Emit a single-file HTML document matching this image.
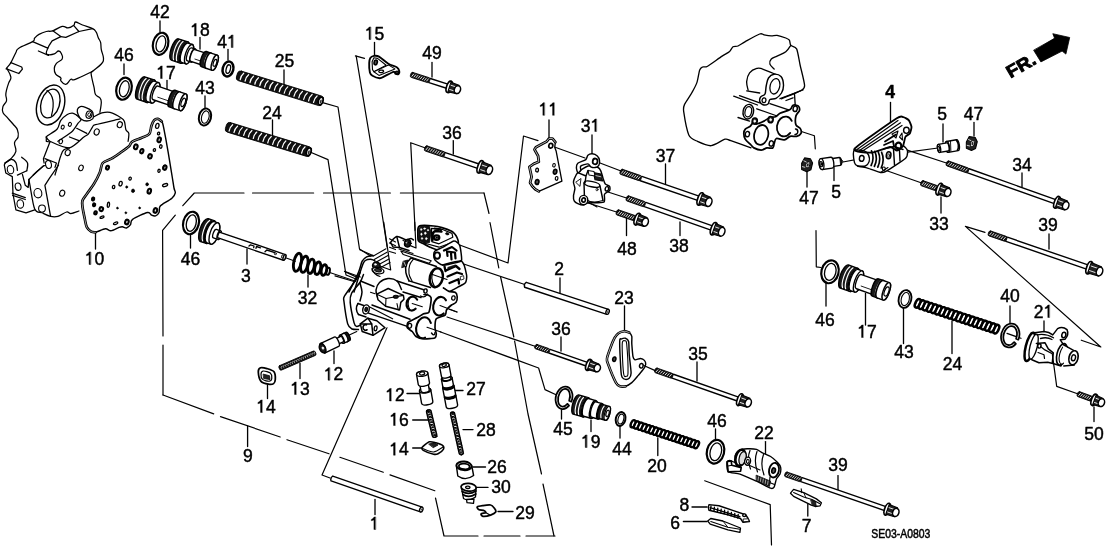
<!DOCTYPE html>
<html><head><meta charset="utf-8"><title>diagram</title>
<style>
html,body{margin:0;padding:0;background:#fff;}
body{width:1108px;height:553px;overflow:hidden;}
svg{display:block;}
svg text{font-family:"Liberation Sans",sans-serif;fill:#000;stroke:#000;stroke-width:0.45px;}
svg{filter:grayscale(1);}
svg *{stroke-linecap:round;stroke-linejoin:round;}
</style></head><body>
<svg width="1108" height="553" viewBox="0 0 1108 553" stroke="#000" fill="none">
<rect x="0" y="0" width="1108" height="553" fill="#fff" stroke="none"/>
<line x1="160" y1="21" x2="160" y2="32" stroke-width="1.32" />
<line x1="200" y1="37.5" x2="200" y2="49" stroke-width="1.32" />
<line x1="228" y1="49.5" x2="228" y2="60" stroke-width="1.32" />
<line x1="124" y1="64" x2="124" y2="74.5" stroke-width="1.32" />
<line x1="167" y1="80.5" x2="167" y2="95" stroke-width="1.32" />
<line x1="205" y1="96" x2="205" y2="107.5" stroke-width="1.32" />
<line x1="272.5" y1="120" x2="272.5" y2="135" stroke-width="1.32" />
<line x1="284" y1="70" x2="284" y2="84" stroke-width="1.32" />
<line x1="374.5" y1="42.5" x2="374.5" y2="55.5" stroke-width="1.32" />
<line x1="432" y1="62.5" x2="432" y2="77" stroke-width="1.32" />
<line x1="549" y1="120" x2="549" y2="141" stroke-width="1.32" />
<line x1="592" y1="135" x2="592" y2="155.5" stroke-width="1.32" />
<line x1="890.5" y1="102.5" x2="890.5" y2="122.5" stroke-width="1.32" />
<line x1="943" y1="124" x2="943" y2="142" stroke-width="1.32" />
<line x1="974" y1="122.5" x2="974" y2="136" stroke-width="1.32" />
<line x1="95.5" y1="233" x2="95.5" y2="249" stroke-width="1.32" />
<line x1="190.5" y1="234" x2="190.5" y2="248" stroke-width="1.32" />
<line x1="247" y1="249" x2="247" y2="264" stroke-width="1.32" />
<line x1="453.3" y1="140.6" x2="453.3" y2="154" stroke-width="1.32" />
<line x1="665.5" y1="164" x2="665.5" y2="184" stroke-width="1.32" />
<line x1="680" y1="222" x2="680" y2="235.5" stroke-width="1.32" />
<line x1="626.5" y1="217" x2="626.5" y2="235.5" stroke-width="1.32" />
<line x1="807" y1="170.5" x2="807" y2="187" stroke-width="1.32" />
<line x1="834" y1="165.5" x2="834" y2="180.5" stroke-width="1.32" />
<line x1="1022" y1="173" x2="1022" y2="187" stroke-width="1.32" />
<line x1="941" y1="197" x2="941" y2="213" stroke-width="1.32" />
<line x1="1049" y1="234" x2="1049" y2="249" stroke-width="1.32" />
<line x1="308" y1="275" x2="308" y2="287" stroke-width="1.32" />
<line x1="334" y1="351" x2="334" y2="363.5" stroke-width="1.32" />
<line x1="300" y1="363.5" x2="300" y2="378.5" stroke-width="1.32" />
<line x1="267.5" y1="384.5" x2="267.5" y2="398.5" stroke-width="1.32" />
<line x1="624.5" y1="306" x2="624.5" y2="332" stroke-width="1.32" />
<line x1="561" y1="337" x2="561" y2="351" stroke-width="1.32" />
<line x1="697" y1="362" x2="697" y2="381" stroke-width="1.32" />
<line x1="560" y1="278" x2="560" y2="293.5" stroke-width="1.32" />
<line x1="826" y1="282" x2="826" y2="306" stroke-width="1.32" />
<line x1="865.5" y1="293.5" x2="865.5" y2="325" stroke-width="1.32" />
<line x1="903.5" y1="306" x2="903.5" y2="343.5" stroke-width="1.32" />
<line x1="952" y1="321" x2="952" y2="353.5" stroke-width="1.32" />
<line x1="1010" y1="306" x2="1010" y2="323.5" stroke-width="1.32" />
<line x1="1044" y1="321" x2="1044" y2="335" stroke-width="1.32" />
<line x1="247.6" y1="426" x2="247.6" y2="446.5" stroke-width="1.32" />
<line x1="375" y1="499.4" x2="375" y2="514.5" stroke-width="1.32" />
<line x1="561.5" y1="410" x2="561.5" y2="419" stroke-width="1.32" />
<line x1="591" y1="420" x2="591" y2="431.6" stroke-width="1.32" />
<line x1="620" y1="425" x2="620" y2="438" stroke-width="1.32" />
<line x1="657.8" y1="438" x2="657.8" y2="455.5" stroke-width="1.32" />
<line x1="715.5" y1="429" x2="715.5" y2="439" stroke-width="1.32" />
<line x1="765.5" y1="441.6" x2="765.5" y2="455.5" stroke-width="1.32" />
<line x1="807.8" y1="503" x2="807.8" y2="516" stroke-width="1.32" />
<line x1="838" y1="475.6" x2="838" y2="489.4" stroke-width="1.32" />
<line x1="1094" y1="407" x2="1094" y2="421.5" stroke-width="1.32" />
<line x1="407" y1="393.5" x2="421" y2="393.5" stroke-width="1.32" />
<line x1="452" y1="390.5" x2="463" y2="390.5" stroke-width="1.32" />
<line x1="412.7" y1="420" x2="429" y2="420" stroke-width="1.32" />
<line x1="463" y1="429.6" x2="473" y2="429.6" stroke-width="1.32" />
<line x1="412.7" y1="448" x2="422.7" y2="448" stroke-width="1.32" />
<line x1="473" y1="467" x2="485.5" y2="467" stroke-width="1.32" />
<line x1="476.7" y1="487.4" x2="488" y2="487.4" stroke-width="1.32" />
<line x1="498" y1="511.5" x2="513" y2="511.5" stroke-width="1.32" />
<line x1="692" y1="507" x2="707" y2="507" stroke-width="1.32" />
<line x1="683.4" y1="521.5" x2="707" y2="521.5" stroke-width="1.32" />
<path d="M244.0 193.0 L194.3 193.0 L182.8 205.7" stroke-width="1.21" fill="none"/>
<path d="M175.3 215.2 L162.6 230.3 L163.0 336.0" stroke-width="1.21" fill="none"/>
<line x1="252.5" y1="193" x2="313.6" y2="193" stroke-width="1.21" />
<line x1="323.5" y1="193" x2="390.4" y2="193" stroke-width="1.21" />
<line x1="400.4" y1="193" x2="484" y2="193" stroke-width="1.21" />
<path d="M484.0 193.0 L489.0 213.5" stroke-width="1.21" fill="none"/>
<path d="M490.0 222.5 L498.8 268.0" stroke-width="1.21" fill="none"/>
<path d="M500.6 277.0 L513.8 337.0" stroke-width="1.21" fill="none"/>
<path d="M514.6 341.0 L528.0 414.0 L541.5 474.0" stroke-width="1.21" fill="none"/>
<path d="M543.0 484.0 L554.0 536.0" stroke-width="1.21" fill="none"/>
<line x1="163" y1="345" x2="163" y2="395" stroke-width="1.21" />
<path d="M163.0 395.0 L213.7 413.9" stroke-width="1.21" fill="none"/>
<path d="M220.5 416.6 L280.2 437.0" stroke-width="1.21" fill="none"/>
<path d="M287.0 439.7 L329.0 453.8" stroke-width="1.21" fill="none"/>
<path d="M339.9 457.3 L383.3 472.2" stroke-width="1.21" fill="none"/>
<path d="M390.0 474.9 L434.8 490.7" stroke-width="1.21" fill="none"/>
<path d="M435.5 498.0 L444.0 536.0 L478.0 536.0" stroke-width="1.21" fill="none"/>
<line x1="484" y1="536" x2="520" y2="536" stroke-width="1.21" />
<line x1="526" y1="536" x2="555" y2="536" stroke-width="1.21" />
<path d="M322.6 102.6 L338.0 107.0 L359.5 249.0 L391.0 269.0" stroke-width="1.21" fill="none"/>
<path d="M310.0 152.0 L328.0 159.6 L346.0 275.0 L356.0 279.0" stroke-width="1.21" fill="none"/>
<path d="M364.5 58.4 L355.4 55.9" stroke-width="1.21" fill="none"/>
<path d="M356.2 56.2 L376.8 180.0 L390.7 270.0" stroke-width="1.21" fill="none"/>
<path d="M424.8 147.8 L410.7 142.7 L416.0 248.0 L409.7 245.4" stroke-width="1.21" fill="none"/>
<path d="M457.0 244.0 L508.0 263.0 L523.5 136.0 L538.0 140.6" stroke-width="1.21" fill="none"/>
<path d="M551.0 145.8 L585.0 158.0" stroke-width="1.21" fill="none"/>
<path d="M600.0 163.0 L621.0 171.0" stroke-width="1.21" fill="none"/>
<path d="M608.0 192.0 L626.5 198.0" stroke-width="1.21" fill="none"/>
<path d="M586.5 202.5 L616.5 212.0" stroke-width="1.21" fill="none"/>
<path d="M391.0 318.5 L322.0 475.0 L330.0 478.0" stroke-width="1.21" fill="none"/>
<path d="M440.0 256.0 L524.0 284.3" stroke-width="1.21" fill="none"/>
<path d="M440.0 306.0 L457.0 312.0" stroke-width="1.21" fill="none"/>
<path d="M447.0 317.0 L535.0 346.2" stroke-width="1.21" fill="none"/>
<path d="M440.0 331.8 L538.6 368.0 L545.0 389.6 L556.6 395.0" stroke-width="1.21" fill="none"/>
<path d="M780.7 124.7 L814.4 135.8 L815.3 148.8" stroke-width="1.21" fill="none"/>
<path d="M816.0 230.5 L816.3 266.8 L821.0 267.5" stroke-width="1.21" fill="none"/>
<path d="M843.0 162.0 L859.6 158.8" stroke-width="1.21" fill="none"/>
<path d="M938.0 148.0 L905.7 152.4" stroke-width="1.21" fill="none"/>
<path d="M905.7 149.7 L946.4 163.0" stroke-width="1.21" fill="none"/>
<path d="M887.6 171.0 L921.0 182.8" stroke-width="1.21" fill="none"/>
<path d="M985.0 232.4 L965.4 226.4 L1100.8 347.0 L1081.3 340.2" stroke-width="1.21" fill="none"/>
<path d="M1007.0 333.4 L1021.0 338.3" stroke-width="1.21" fill="none"/>
<g transform="translate(524.0 284.3) rotate(18.23)"><path d="M88.0 -2.6 L1.5 -2.6 Q-0.5 0 1.5 2.6 L88.0 2.6" fill="#fff" stroke-width="1.38"/><ellipse cx="88.0" cy="0" rx="1.6" ry="2.6" fill="#fff" stroke-width="1.38"/><ellipse cx="88.1" cy="0" rx="0.7" ry="1.1" fill="#555" stroke="none"/></g>
<g transform="translate(330.5 478.0) rotate(19.14)"><path d="M96.1 -2.6 L1.5 -2.6 Q-0.5 0 1.5 2.6 L96.1 2.6" fill="#fff" stroke-width="1.38"/><ellipse cx="96.1" cy="0" rx="1.6" ry="2.6" fill="#fff" stroke-width="1.38"/><ellipse cx="96.2" cy="0" rx="0.7" ry="1.1" fill="#555" stroke="none"/></g>
<g transform="translate(410.7 74.5) rotate(17.74)">
<path d="M19.9 -2.2 L39.1 -2.2 L39.1 2.2 L19.9 2.2" fill="#fff" stroke-width="1.38"/>
<rect x="0" y="-2.6" width="19.9" height="5.2" rx="1.5" fill="#111" stroke-width="0.8"/>
<line x1="2.7" y1="-1.3" x2="1.7" y2="1.3" stroke="#fff" stroke-width="0.8"/>
<line x1="4.9" y1="-1.3" x2="3.9" y2="1.3" stroke="#fff" stroke-width="0.8"/>
<line x1="7.1" y1="-1.3" x2="6.1" y2="1.3" stroke="#fff" stroke-width="0.8"/>
<line x1="9.3" y1="-1.3" x2="8.3" y2="1.3" stroke="#fff" stroke-width="0.8"/>
<line x1="11.5" y1="-1.3" x2="10.5" y2="1.3" stroke="#fff" stroke-width="0.8"/>
<line x1="13.8" y1="-1.3" x2="12.8" y2="1.3" stroke="#fff" stroke-width="0.8"/>
<line x1="16.0" y1="-1.3" x2="15.0" y2="1.3" stroke="#fff" stroke-width="0.8"/>
<line x1="18.2" y1="-1.3" x2="17.2" y2="1.3" stroke="#fff" stroke-width="0.8"/>
<ellipse cx="40.5" cy="0" rx="2.7" ry="6.0" fill="#fff" stroke-width="1.65"/>
<path d="M40.7 -5.0 L49.3 -4.4 L49.3 4.4 L40.7 5.0 Z" fill="#222" stroke-width="1.1"/>
<line x1="41.7" y1="-2.0" x2="47.5" y2="-2.0" stroke="#fff" stroke-width="0.8"/>
<line x1="41.7" y1="2.4" x2="47.5" y2="2.4" stroke="#fff" stroke-width="0.8"/>
<ellipse cx="49.1" cy="0.2" rx="3.1" ry="4.0" fill="#fff" stroke-width="1.54"/>
</g>
<g transform="translate(424.8 148.0) rotate(18.74)">
<path d="M20.9 -2.3 L57.3 -2.3 L57.3 2.3 L20.9 2.3" fill="#fff" stroke-width="1.38"/>
<rect x="0" y="-2.7" width="20.9" height="5.4" rx="1.5" fill="#111" stroke-width="0.8"/>
<line x1="2.7" y1="-1.4" x2="1.7" y2="1.4" stroke="#fff" stroke-width="0.8"/>
<line x1="5.0" y1="-1.4" x2="4.0" y2="1.4" stroke="#fff" stroke-width="0.8"/>
<line x1="7.4" y1="-1.4" x2="6.4" y2="1.4" stroke="#fff" stroke-width="0.8"/>
<line x1="9.7" y1="-1.4" x2="8.7" y2="1.4" stroke="#fff" stroke-width="0.8"/>
<line x1="12.1" y1="-1.4" x2="11.1" y2="1.4" stroke="#fff" stroke-width="0.8"/>
<line x1="14.4" y1="-1.4" x2="13.4" y2="1.4" stroke="#fff" stroke-width="0.8"/>
<line x1="16.7" y1="-1.4" x2="15.7" y2="1.4" stroke="#fff" stroke-width="0.8"/>
<line x1="19.1" y1="-1.4" x2="18.1" y2="1.4" stroke="#fff" stroke-width="0.8"/>
<ellipse cx="58.7" cy="0" rx="2.7" ry="6.5" fill="#fff" stroke-width="1.65"/>
<path d="M58.9 -5.5 L68.4 -4.9 L68.4 4.9 L58.9 5.5 Z" fill="#222" stroke-width="1.1"/>
<line x1="59.9" y1="-2.2" x2="66.6" y2="-2.2" stroke="#fff" stroke-width="0.8"/>
<line x1="59.9" y1="2.6" x2="66.6" y2="2.6" stroke="#fff" stroke-width="0.8"/>
<ellipse cx="68.2" cy="0.2" rx="3.1" ry="4.5" fill="#fff" stroke-width="1.54"/>
</g>
<g transform="translate(620.3 171.4) rotate(19.01)">
<path d="M22.0 -2.3 L83.3 -2.3 L83.3 2.3 L22.0 2.3" fill="#fff" stroke-width="1.38"/>
<rect x="0" y="-2.7" width="22.0" height="5.4" rx="1.5" fill="#111" stroke-width="0.8"/>
<line x1="2.7" y1="-1.4" x2="1.7" y2="1.4" stroke="#fff" stroke-width="0.8"/>
<line x1="4.9" y1="-1.4" x2="3.9" y2="1.4" stroke="#fff" stroke-width="0.8"/>
<line x1="7.1" y1="-1.4" x2="6.1" y2="1.4" stroke="#fff" stroke-width="0.8"/>
<line x1="9.3" y1="-1.4" x2="8.3" y2="1.4" stroke="#fff" stroke-width="0.8"/>
<line x1="11.5" y1="-1.4" x2="10.5" y2="1.4" stroke="#fff" stroke-width="0.8"/>
<line x1="13.7" y1="-1.4" x2="12.7" y2="1.4" stroke="#fff" stroke-width="0.8"/>
<line x1="15.9" y1="-1.4" x2="14.9" y2="1.4" stroke="#fff" stroke-width="0.8"/>
<line x1="18.1" y1="-1.4" x2="17.1" y2="1.4" stroke="#fff" stroke-width="0.8"/>
<line x1="20.3" y1="-1.4" x2="19.3" y2="1.4" stroke="#fff" stroke-width="0.8"/>
<ellipse cx="84.7" cy="0" rx="2.7" ry="6.5" fill="#fff" stroke-width="1.65"/>
<path d="M84.9 -5.5 L93.8 -4.9 L93.8 4.9 L84.9 5.5 Z" fill="#222" stroke-width="1.1"/>
<line x1="85.9" y1="-2.2" x2="92.0" y2="-2.2" stroke="#fff" stroke-width="0.8"/>
<line x1="85.9" y1="2.6" x2="92.0" y2="2.6" stroke="#fff" stroke-width="0.8"/>
<ellipse cx="93.6" cy="0.2" rx="3.1" ry="4.5" fill="#fff" stroke-width="1.54"/>
</g>
<g transform="translate(626.5 198.0) rotate(19.41)">
<path d="M19.7 -2.3 L91.1 -2.3 L91.1 2.3 L19.7 2.3" fill="#fff" stroke-width="1.38"/>
<rect x="0" y="-2.7" width="19.7" height="5.4" rx="1.5" fill="#111" stroke-width="0.8"/>
<line x1="2.7" y1="-1.4" x2="1.7" y2="1.4" stroke="#fff" stroke-width="0.8"/>
<line x1="4.9" y1="-1.4" x2="3.9" y2="1.4" stroke="#fff" stroke-width="0.8"/>
<line x1="7.1" y1="-1.4" x2="6.1" y2="1.4" stroke="#fff" stroke-width="0.8"/>
<line x1="9.3" y1="-1.4" x2="8.3" y2="1.4" stroke="#fff" stroke-width="0.8"/>
<line x1="11.5" y1="-1.4" x2="10.5" y2="1.4" stroke="#fff" stroke-width="0.8"/>
<line x1="13.6" y1="-1.4" x2="12.6" y2="1.4" stroke="#fff" stroke-width="0.8"/>
<line x1="15.8" y1="-1.4" x2="14.8" y2="1.4" stroke="#fff" stroke-width="0.8"/>
<line x1="18.0" y1="-1.4" x2="17.0" y2="1.4" stroke="#fff" stroke-width="0.8"/>
<ellipse cx="92.5" cy="0" rx="2.7" ry="6.5" fill="#fff" stroke-width="1.65"/>
<path d="M92.7 -5.5 L101.2 -4.9 L101.2 4.9 L92.7 5.5 Z" fill="#222" stroke-width="1.1"/>
<line x1="93.7" y1="-2.2" x2="99.4" y2="-2.2" stroke="#fff" stroke-width="0.8"/>
<line x1="93.7" y1="2.6" x2="99.4" y2="2.6" stroke="#fff" stroke-width="0.8"/>
<ellipse cx="101.0" cy="0.2" rx="3.1" ry="4.5" fill="#fff" stroke-width="1.54"/>
</g>
<g transform="translate(616.5 212.0) rotate(18.97)">
<rect x="0" y="-2.7" width="19.6" height="5.4" rx="1.5" fill="#111" stroke-width="0.8"/>
<line x1="2.7" y1="-1.4" x2="1.7" y2="1.4" stroke="#fff" stroke-width="0.8"/>
<line x1="4.9" y1="-1.4" x2="3.9" y2="1.4" stroke="#fff" stroke-width="0.8"/>
<line x1="7.1" y1="-1.4" x2="6.1" y2="1.4" stroke="#fff" stroke-width="0.8"/>
<line x1="9.2" y1="-1.4" x2="8.2" y2="1.4" stroke="#fff" stroke-width="0.8"/>
<line x1="11.4" y1="-1.4" x2="10.4" y2="1.4" stroke="#fff" stroke-width="0.8"/>
<line x1="13.6" y1="-1.4" x2="12.6" y2="1.4" stroke="#fff" stroke-width="0.8"/>
<line x1="15.8" y1="-1.4" x2="14.8" y2="1.4" stroke="#fff" stroke-width="0.8"/>
<line x1="17.9" y1="-1.4" x2="16.9" y2="1.4" stroke="#fff" stroke-width="0.8"/>
<ellipse cx="22.0" cy="0" rx="2.7" ry="6.2" fill="#fff" stroke-width="1.65"/>
<path d="M22.2 -5.2 L30.6 -4.7 L30.6 4.7 L22.2 5.2 Z" fill="#222" stroke-width="1.1"/>
<line x1="23.2" y1="-2.1" x2="28.8" y2="-2.1" stroke="#fff" stroke-width="0.8"/>
<line x1="23.2" y1="2.5" x2="28.8" y2="2.5" stroke="#fff" stroke-width="0.8"/>
<ellipse cx="30.4" cy="0.2" rx="3.1" ry="4.2" fill="#fff" stroke-width="1.54"/>
</g>
<g transform="translate(921.0 182.8) rotate(19.29)">
<rect x="0" y="-2.7" width="17.0" height="5.4" rx="1.5" fill="#111" stroke-width="0.8"/>
<line x1="2.7" y1="-1.4" x2="1.7" y2="1.4" stroke="#fff" stroke-width="0.8"/>
<line x1="4.8" y1="-1.4" x2="3.8" y2="1.4" stroke="#fff" stroke-width="0.8"/>
<line x1="6.9" y1="-1.4" x2="5.9" y2="1.4" stroke="#fff" stroke-width="0.8"/>
<line x1="9.0" y1="-1.4" x2="8.0" y2="1.4" stroke="#fff" stroke-width="0.8"/>
<line x1="11.1" y1="-1.4" x2="10.1" y2="1.4" stroke="#fff" stroke-width="0.8"/>
<line x1="13.2" y1="-1.4" x2="12.2" y2="1.4" stroke="#fff" stroke-width="0.8"/>
<line x1="15.3" y1="-1.4" x2="14.3" y2="1.4" stroke="#fff" stroke-width="0.8"/>
<ellipse cx="19.4" cy="0" rx="2.7" ry="6.2" fill="#fff" stroke-width="1.65"/>
<path d="M19.6 -5.2 L28.6 -4.7 L28.6 4.7 L19.6 5.2 Z" fill="#222" stroke-width="1.1"/>
<line x1="20.6" y1="-2.1" x2="26.8" y2="-2.1" stroke="#fff" stroke-width="0.8"/>
<line x1="20.6" y1="2.5" x2="26.8" y2="2.5" stroke="#fff" stroke-width="0.8"/>
<ellipse cx="28.4" cy="0.2" rx="3.1" ry="4.2" fill="#fff" stroke-width="1.54"/>
</g>
<g transform="translate(946.5 163.0) rotate(19.59)">
<path d="M23.3 -2.2 L115.9 -2.2 L115.9 2.2 L23.3 2.2" fill="#fff" stroke-width="1.38"/>
<rect x="0" y="-2.6" width="23.3" height="5.2" rx="1.5" fill="#111" stroke-width="0.8"/>
<line x1="2.7" y1="-1.3" x2="1.7" y2="1.3" stroke="#fff" stroke-width="0.8"/>
<line x1="5.0" y1="-1.3" x2="4.0" y2="1.3" stroke="#fff" stroke-width="0.8"/>
<line x1="7.4" y1="-1.3" x2="6.4" y2="1.3" stroke="#fff" stroke-width="0.8"/>
<line x1="9.7" y1="-1.3" x2="8.7" y2="1.3" stroke="#fff" stroke-width="0.8"/>
<line x1="12.1" y1="-1.3" x2="11.1" y2="1.3" stroke="#fff" stroke-width="0.8"/>
<line x1="14.4" y1="-1.3" x2="13.4" y2="1.3" stroke="#fff" stroke-width="0.8"/>
<line x1="16.8" y1="-1.3" x2="15.8" y2="1.3" stroke="#fff" stroke-width="0.8"/>
<line x1="19.1" y1="-1.3" x2="18.1" y2="1.3" stroke="#fff" stroke-width="0.8"/>
<line x1="21.5" y1="-1.3" x2="20.5" y2="1.3" stroke="#fff" stroke-width="0.8"/>
<ellipse cx="117.3" cy="0" rx="2.7" ry="6.2" fill="#fff" stroke-width="1.65"/>
<path d="M117.5 -5.2 L126.8 -4.7 L126.8 4.7 L117.5 5.2 Z" fill="#222" stroke-width="1.1"/>
<line x1="118.5" y1="-2.1" x2="125.0" y2="-2.1" stroke="#fff" stroke-width="0.8"/>
<line x1="118.5" y1="2.5" x2="125.0" y2="2.5" stroke="#fff" stroke-width="0.8"/>
<ellipse cx="126.6" cy="0.2" rx="3.1" ry="4.2" fill="#fff" stroke-width="1.54"/>
</g>
<g transform="translate(988.5 233.0) rotate(19.02)">
<path d="M19.2 -2.2 L105.2 -2.2 L105.2 2.2 L19.2 2.2" fill="#fff" stroke-width="1.38"/>
<rect x="0" y="-2.6" width="19.2" height="5.2" rx="1.5" fill="#111" stroke-width="0.8"/>
<line x1="2.7" y1="-1.3" x2="1.7" y2="1.3" stroke="#fff" stroke-width="0.8"/>
<line x1="5.1" y1="-1.3" x2="4.1" y2="1.3" stroke="#fff" stroke-width="0.8"/>
<line x1="7.6" y1="-1.3" x2="6.6" y2="1.3" stroke="#fff" stroke-width="0.8"/>
<line x1="10.0" y1="-1.3" x2="9.0" y2="1.3" stroke="#fff" stroke-width="0.8"/>
<line x1="12.4" y1="-1.3" x2="11.4" y2="1.3" stroke="#fff" stroke-width="0.8"/>
<line x1="14.8" y1="-1.3" x2="13.8" y2="1.3" stroke="#fff" stroke-width="0.8"/>
<line x1="17.3" y1="-1.3" x2="16.3" y2="1.3" stroke="#fff" stroke-width="0.8"/>
<ellipse cx="106.6" cy="0" rx="2.7" ry="6.5" fill="#fff" stroke-width="1.65"/>
<path d="M106.8 -5.5 L117.7 -4.9 L117.7 4.9 L106.8 5.5 Z" fill="#222" stroke-width="1.1"/>
<line x1="107.8" y1="-2.2" x2="115.9" y2="-2.2" stroke="#fff" stroke-width="0.8"/>
<line x1="107.8" y1="2.6" x2="115.9" y2="2.6" stroke="#fff" stroke-width="0.8"/>
<ellipse cx="117.5" cy="0.2" rx="3.1" ry="4.5" fill="#fff" stroke-width="1.54"/>
</g>
<g transform="translate(535.0 346.2) rotate(19.17)">
<path d="M15.3 -1.9 L55.6 -1.9 L55.6 1.9 L15.3 1.9" fill="#fff" stroke-width="1.38"/>
<rect x="0" y="-2.3" width="15.3" height="4.6" rx="1.5" fill="#111" stroke-width="0.8"/>
<line x1="2.7" y1="-1.0" x2="1.7" y2="1.0" stroke="#fff" stroke-width="0.8"/>
<line x1="4.9" y1="-1.0" x2="3.9" y2="1.0" stroke="#fff" stroke-width="0.8"/>
<line x1="7.1" y1="-1.0" x2="6.1" y2="1.0" stroke="#fff" stroke-width="0.8"/>
<line x1="9.2" y1="-1.0" x2="8.2" y2="1.0" stroke="#fff" stroke-width="0.8"/>
<line x1="11.4" y1="-1.0" x2="10.4" y2="1.0" stroke="#fff" stroke-width="0.8"/>
<line x1="13.6" y1="-1.0" x2="12.6" y2="1.0" stroke="#fff" stroke-width="0.8"/>
<ellipse cx="57.0" cy="0" rx="2.7" ry="5.8" fill="#fff" stroke-width="1.65"/>
<path d="M57.2 -4.8 L66.2 -4.2 L66.2 4.2 L57.2 4.8 Z" fill="#222" stroke-width="1.1"/>
<line x1="58.2" y1="-2.0" x2="64.4" y2="-2.0" stroke="#fff" stroke-width="0.8"/>
<line x1="58.2" y1="2.3" x2="64.4" y2="2.3" stroke="#fff" stroke-width="0.8"/>
<ellipse cx="66.0" cy="0.2" rx="3.1" ry="3.8" fill="#fff" stroke-width="1.54"/>
</g>
<g transform="translate(655.0 370.0) rotate(19.30)">
<path d="M18.8 -2.1 L88.6 -2.1 L88.6 2.1 L18.8 2.1" fill="#fff" stroke-width="1.38"/>
<rect x="0" y="-2.5" width="18.8" height="5.0" rx="1.5" fill="#111" stroke-width="0.8"/>
<line x1="2.7" y1="-1.2" x2="1.7" y2="1.2" stroke="#fff" stroke-width="0.8"/>
<line x1="5.1" y1="-1.2" x2="4.1" y2="1.2" stroke="#fff" stroke-width="0.8"/>
<line x1="7.4" y1="-1.2" x2="6.4" y2="1.2" stroke="#fff" stroke-width="0.8"/>
<line x1="9.8" y1="-1.2" x2="8.8" y2="1.2" stroke="#fff" stroke-width="0.8"/>
<line x1="12.2" y1="-1.2" x2="11.2" y2="1.2" stroke="#fff" stroke-width="0.8"/>
<line x1="14.5" y1="-1.2" x2="13.5" y2="1.2" stroke="#fff" stroke-width="0.8"/>
<line x1="16.9" y1="-1.2" x2="15.9" y2="1.2" stroke="#fff" stroke-width="0.8"/>
<ellipse cx="90.0" cy="0" rx="2.7" ry="6.2" fill="#fff" stroke-width="1.65"/>
<path d="M90.2 -5.2 L99.0 -4.7 L99.0 4.7 L90.2 5.2 Z" fill="#222" stroke-width="1.1"/>
<line x1="91.2" y1="-2.1" x2="97.2" y2="-2.1" stroke="#fff" stroke-width="0.8"/>
<line x1="91.2" y1="2.5" x2="97.2" y2="2.5" stroke="#fff" stroke-width="0.8"/>
<ellipse cx="98.8" cy="0.2" rx="3.1" ry="4.2" fill="#fff" stroke-width="1.54"/>
</g>
<g transform="translate(785.0 474.0) rotate(19.02)">
<path d="M17.5 -2.1 L106.8 -2.1 L106.8 2.1 L17.5 2.1" fill="#fff" stroke-width="1.38"/>
<rect x="0" y="-2.5" width="17.5" height="5.0" rx="1.5" fill="#111" stroke-width="0.8"/>
<line x1="2.7" y1="-1.2" x2="1.7" y2="1.2" stroke="#fff" stroke-width="0.8"/>
<line x1="4.9" y1="-1.2" x2="3.9" y2="1.2" stroke="#fff" stroke-width="0.8"/>
<line x1="7.1" y1="-1.2" x2="6.1" y2="1.2" stroke="#fff" stroke-width="0.8"/>
<line x1="9.3" y1="-1.2" x2="8.3" y2="1.2" stroke="#fff" stroke-width="0.8"/>
<line x1="11.4" y1="-1.2" x2="10.4" y2="1.2" stroke="#fff" stroke-width="0.8"/>
<line x1="13.6" y1="-1.2" x2="12.6" y2="1.2" stroke="#fff" stroke-width="0.8"/>
<line x1="15.8" y1="-1.2" x2="14.8" y2="1.2" stroke="#fff" stroke-width="0.8"/>
<ellipse cx="108.2" cy="0" rx="2.7" ry="6.2" fill="#fff" stroke-width="1.65"/>
<path d="M108.4 -5.2 L117.4 -4.7 L117.4 4.7 L108.4 5.2 Z" fill="#222" stroke-width="1.1"/>
<line x1="109.4" y1="-2.1" x2="115.6" y2="-2.1" stroke="#fff" stroke-width="0.8"/>
<line x1="109.4" y1="2.5" x2="115.6" y2="2.5" stroke="#fff" stroke-width="0.8"/>
<ellipse cx="117.2" cy="0.2" rx="3.1" ry="4.2" fill="#fff" stroke-width="1.54"/>
</g>
<g transform="translate(1077.5 393.7) rotate(20.07)">
<rect x="0" y="-2.6" width="15.4" height="5.2" rx="1.5" fill="#111" stroke-width="0.8"/>
<line x1="2.7" y1="-1.3" x2="1.7" y2="1.3" stroke="#fff" stroke-width="0.8"/>
<line x1="4.9" y1="-1.3" x2="3.9" y2="1.3" stroke="#fff" stroke-width="0.8"/>
<line x1="7.1" y1="-1.3" x2="6.1" y2="1.3" stroke="#fff" stroke-width="0.8"/>
<line x1="9.3" y1="-1.3" x2="8.3" y2="1.3" stroke="#fff" stroke-width="0.8"/>
<line x1="11.5" y1="-1.3" x2="10.5" y2="1.3" stroke="#fff" stroke-width="0.8"/>
<line x1="13.7" y1="-1.3" x2="12.7" y2="1.3" stroke="#fff" stroke-width="0.8"/>
<ellipse cx="17.8" cy="0" rx="2.7" ry="6.0" fill="#fff" stroke-width="1.65"/>
<path d="M18.0 -5.0 L25.7 -4.4 L25.7 4.4 L18.0 5.0 Z" fill="#222" stroke-width="1.1"/>
<line x1="19.0" y1="-2.0" x2="23.9" y2="-2.0" stroke="#fff" stroke-width="0.8"/>
<line x1="19.0" y1="2.4" x2="23.9" y2="2.4" stroke="#fff" stroke-width="0.8"/>
<ellipse cx="25.5" cy="0.2" rx="3.1" ry="4.0" fill="#fff" stroke-width="1.54"/>
</g>
<g transform="translate(237.0 75.0) rotate(17.25)">
<rect x="0" y="-5.0" width="90.0" height="10.0" rx="3.0" fill="#111" stroke-width="0.8"/>
<path d="M5.9 -3.7 Q3.8 -0.5 4.4 3.4" stroke="#fff" stroke-width="1.26" fill="none"/>
<path d="M11.0 -3.7 Q8.9 -0.5 9.5 3.4" stroke="#fff" stroke-width="1.26" fill="none"/>
<path d="M16.1 -3.7 Q14.0 -0.5 14.6 3.4" stroke="#fff" stroke-width="1.26" fill="none"/>
<path d="M21.3 -3.7 Q19.2 -0.5 19.8 3.4" stroke="#fff" stroke-width="1.26" fill="none"/>
<path d="M26.4 -3.7 Q24.3 -0.5 24.9 3.4" stroke="#fff" stroke-width="1.26" fill="none"/>
<path d="M31.5 -3.7 Q29.4 -0.5 30.0 3.4" stroke="#fff" stroke-width="1.26" fill="none"/>
<path d="M36.6 -3.7 Q34.5 -0.5 35.1 3.4" stroke="#fff" stroke-width="1.26" fill="none"/>
<path d="M41.7 -3.7 Q39.6 -0.5 40.2 3.4" stroke="#fff" stroke-width="1.26" fill="none"/>
<path d="M46.8 -3.7 Q44.7 -0.5 45.3 3.4" stroke="#fff" stroke-width="1.26" fill="none"/>
<path d="M52.0 -3.7 Q49.9 -0.5 50.5 3.4" stroke="#fff" stroke-width="1.26" fill="none"/>
<path d="M57.1 -3.7 Q55.0 -0.5 55.6 3.4" stroke="#fff" stroke-width="1.26" fill="none"/>
<path d="M62.2 -3.7 Q60.1 -0.5 60.7 3.4" stroke="#fff" stroke-width="1.26" fill="none"/>
<path d="M67.3 -3.7 Q65.2 -0.5 65.8 3.4" stroke="#fff" stroke-width="1.26" fill="none"/>
<path d="M72.4 -3.7 Q70.3 -0.5 70.9 3.4" stroke="#fff" stroke-width="1.26" fill="none"/>
<path d="M77.5 -3.7 Q75.4 -0.5 76.0 3.4" stroke="#fff" stroke-width="1.26" fill="none"/>
<path d="M82.7 -3.7 Q80.6 -0.5 81.2 3.4" stroke="#fff" stroke-width="1.26" fill="none"/>
<path d="M87.8 -3.7 Q85.7 -0.5 86.3 3.4" stroke="#fff" stroke-width="1.26" fill="none"/>
<ellipse cx="87.6" cy="0" rx="2.2" ry="3.9" fill="#fff" stroke-width="1.65"/>
<ellipse cx="87.8" cy="0.4" rx="0.9" ry="2.0" fill="#333" stroke="none"/>
</g>
<g transform="translate(226.0 126.5) rotate(17.01)">
<rect x="0" y="-5.0" width="88.9" height="10.0" rx="3.0" fill="#111" stroke-width="0.8"/>
<path d="M5.8 -3.7 Q3.7 -0.5 4.3 3.4" stroke="#fff" stroke-width="1.26" fill="none"/>
<path d="M10.9 -3.7 Q8.8 -0.5 9.4 3.4" stroke="#fff" stroke-width="1.26" fill="none"/>
<path d="M15.9 -3.7 Q13.8 -0.5 14.4 3.4" stroke="#fff" stroke-width="1.26" fill="none"/>
<path d="M21.0 -3.7 Q18.9 -0.5 19.5 3.4" stroke="#fff" stroke-width="1.26" fill="none"/>
<path d="M26.0 -3.7 Q23.9 -0.5 24.5 3.4" stroke="#fff" stroke-width="1.26" fill="none"/>
<path d="M31.1 -3.7 Q29.0 -0.5 29.6 3.4" stroke="#fff" stroke-width="1.26" fill="none"/>
<path d="M36.1 -3.7 Q34.0 -0.5 34.6 3.4" stroke="#fff" stroke-width="1.26" fill="none"/>
<path d="M41.2 -3.7 Q39.1 -0.5 39.7 3.4" stroke="#fff" stroke-width="1.26" fill="none"/>
<path d="M46.2 -3.7 Q44.1 -0.5 44.7 3.4" stroke="#fff" stroke-width="1.26" fill="none"/>
<path d="M51.3 -3.7 Q49.2 -0.5 49.8 3.4" stroke="#fff" stroke-width="1.26" fill="none"/>
<path d="M56.3 -3.7 Q54.2 -0.5 54.8 3.4" stroke="#fff" stroke-width="1.26" fill="none"/>
<path d="M61.4 -3.7 Q59.3 -0.5 59.9 3.4" stroke="#fff" stroke-width="1.26" fill="none"/>
<path d="M66.5 -3.7 Q64.4 -0.5 65.0 3.4" stroke="#fff" stroke-width="1.26" fill="none"/>
<path d="M71.5 -3.7 Q69.4 -0.5 70.0 3.4" stroke="#fff" stroke-width="1.26" fill="none"/>
<path d="M76.6 -3.7 Q74.5 -0.5 75.1 3.4" stroke="#fff" stroke-width="1.26" fill="none"/>
<path d="M81.6 -3.7 Q79.5 -0.5 80.1 3.4" stroke="#fff" stroke-width="1.26" fill="none"/>
<path d="M86.7 -3.7 Q84.6 -0.5 85.2 3.4" stroke="#fff" stroke-width="1.26" fill="none"/>
<ellipse cx="86.5" cy="0" rx="2.2" ry="3.9" fill="#fff" stroke-width="1.65"/>
<ellipse cx="86.7" cy="0.4" rx="0.9" ry="2.0" fill="#333" stroke="none"/>
</g>
<g transform="translate(915.0 302.5) rotate(18.13)">
<rect x="1" y="-4.7" width="86.4" height="9.3" rx="3.1" fill="#fff" stroke-width="1.43"/>
<ellipse cx="2.7" cy="0" rx="2.2" ry="4.7" fill="none" stroke-width="2.37" transform="rotate(8 2.7 0)"/>
<ellipse cx="7.1" cy="0" rx="2.2" ry="4.7" fill="none" stroke-width="2.37" transform="rotate(8 7.1 0)"/>
<ellipse cx="11.4" cy="0" rx="2.2" ry="4.7" fill="none" stroke-width="2.37" transform="rotate(8 11.4 0)"/>
<ellipse cx="15.8" cy="0" rx="2.2" ry="4.7" fill="none" stroke-width="2.37" transform="rotate(8 15.8 0)"/>
<ellipse cx="20.2" cy="0" rx="2.2" ry="4.7" fill="none" stroke-width="2.37" transform="rotate(8 20.2 0)"/>
<ellipse cx="24.5" cy="0" rx="2.2" ry="4.7" fill="none" stroke-width="2.37" transform="rotate(8 24.5 0)"/>
<ellipse cx="28.9" cy="0" rx="2.2" ry="4.7" fill="none" stroke-width="2.37" transform="rotate(8 28.9 0)"/>
<ellipse cx="33.3" cy="0" rx="2.2" ry="4.7" fill="none" stroke-width="2.37" transform="rotate(8 33.3 0)"/>
<ellipse cx="37.6" cy="0" rx="2.2" ry="4.7" fill="none" stroke-width="2.37" transform="rotate(8 37.6 0)"/>
<ellipse cx="42.0" cy="0" rx="2.2" ry="4.7" fill="none" stroke-width="2.37" transform="rotate(8 42.0 0)"/>
<ellipse cx="46.4" cy="0" rx="2.2" ry="4.7" fill="none" stroke-width="2.37" transform="rotate(8 46.4 0)"/>
<ellipse cx="50.7" cy="0" rx="2.2" ry="4.7" fill="none" stroke-width="2.37" transform="rotate(8 50.7 0)"/>
<ellipse cx="55.1" cy="0" rx="2.2" ry="4.7" fill="none" stroke-width="2.37" transform="rotate(8 55.1 0)"/>
<ellipse cx="59.5" cy="0" rx="2.2" ry="4.7" fill="none" stroke-width="2.37" transform="rotate(8 59.5 0)"/>
<ellipse cx="63.8" cy="0" rx="2.2" ry="4.7" fill="none" stroke-width="2.37" transform="rotate(8 63.8 0)"/>
<ellipse cx="68.2" cy="0" rx="2.2" ry="4.7" fill="none" stroke-width="2.37" transform="rotate(8 68.2 0)"/>
<ellipse cx="72.6" cy="0" rx="2.2" ry="4.7" fill="none" stroke-width="2.37" transform="rotate(8 72.6 0)"/>
<ellipse cx="77.0" cy="0" rx="2.2" ry="4.7" fill="none" stroke-width="2.37" transform="rotate(8 77.0 0)"/>
<ellipse cx="81.3" cy="0" rx="2.2" ry="4.7" fill="none" stroke-width="2.37" transform="rotate(8 81.3 0)"/>
<ellipse cx="85.7" cy="0" rx="2.2" ry="4.7" fill="none" stroke-width="2.37" transform="rotate(8 85.7 0)"/>
</g>
<g transform="translate(630.5 423.0) rotate(18.18)">
<rect x="1" y="-3.9" width="70.1" height="7.8" rx="2.7" fill="#fff" stroke-width="1.43"/>
<ellipse cx="2.5" cy="0" rx="2.0" ry="3.9" fill="none" stroke-width="2.2" transform="rotate(8 2.5 0)"/>
<ellipse cx="6.4" cy="0" rx="2.0" ry="3.9" fill="none" stroke-width="2.2" transform="rotate(8 6.4 0)"/>
<ellipse cx="10.4" cy="0" rx="2.0" ry="3.9" fill="none" stroke-width="2.2" transform="rotate(8 10.4 0)"/>
<ellipse cx="14.3" cy="0" rx="2.0" ry="3.9" fill="none" stroke-width="2.2" transform="rotate(8 14.3 0)"/>
<ellipse cx="18.3" cy="0" rx="2.0" ry="3.9" fill="none" stroke-width="2.2" transform="rotate(8 18.3 0)"/>
<ellipse cx="22.2" cy="0" rx="2.0" ry="3.9" fill="none" stroke-width="2.2" transform="rotate(8 22.2 0)"/>
<ellipse cx="26.2" cy="0" rx="2.0" ry="3.9" fill="none" stroke-width="2.2" transform="rotate(8 26.2 0)"/>
<ellipse cx="30.1" cy="0" rx="2.0" ry="3.9" fill="none" stroke-width="2.2" transform="rotate(8 30.1 0)"/>
<ellipse cx="34.1" cy="0" rx="2.0" ry="3.9" fill="none" stroke-width="2.2" transform="rotate(8 34.1 0)"/>
<ellipse cx="38.0" cy="0" rx="2.0" ry="3.9" fill="none" stroke-width="2.2" transform="rotate(8 38.0 0)"/>
<ellipse cx="42.0" cy="0" rx="2.0" ry="3.9" fill="none" stroke-width="2.2" transform="rotate(8 42.0 0)"/>
<ellipse cx="45.9" cy="0" rx="2.0" ry="3.9" fill="none" stroke-width="2.2" transform="rotate(8 45.9 0)"/>
<ellipse cx="49.9" cy="0" rx="2.0" ry="3.9" fill="none" stroke-width="2.2" transform="rotate(8 49.9 0)"/>
<ellipse cx="53.8" cy="0" rx="2.0" ry="3.9" fill="none" stroke-width="2.2" transform="rotate(8 53.8 0)"/>
<ellipse cx="57.8" cy="0" rx="2.0" ry="3.9" fill="none" stroke-width="2.2" transform="rotate(8 57.8 0)"/>
<ellipse cx="61.7" cy="0" rx="2.0" ry="3.9" fill="none" stroke-width="2.2" transform="rotate(8 61.7 0)"/>
<ellipse cx="65.7" cy="0" rx="2.0" ry="3.9" fill="none" stroke-width="2.2" transform="rotate(8 65.7 0)"/>
<ellipse cx="69.6" cy="0" rx="2.0" ry="3.9" fill="none" stroke-width="2.2" transform="rotate(8 69.6 0)"/>
</g>
<g transform="rotate(14 160.6 43.8)"><ellipse cx="160.6" cy="43.8" rx="7.6" ry="11.2" fill="#fff" stroke-width="2.2"/><ellipse cx="160.9" cy="43.8" rx="4.6" ry="8.2" fill="#fff" stroke-width="1.32"/></g>
<g transform="rotate(14 124 88.7)"><ellipse cx="124" cy="88.7" rx="7.6" ry="11.2" fill="#fff" stroke-width="2.2"/><ellipse cx="124.3" cy="88.7" rx="4.6" ry="8.2" fill="#fff" stroke-width="1.32"/></g>
<g transform="rotate(14 228 69)"><ellipse cx="228" cy="69" rx="5.3" ry="7.6" fill="#fff" stroke-width="2.53"/><ellipse cx="228.3" cy="69" rx="2.0999999999999996" ry="4.3999999999999995" fill="#fff" stroke-width="1.32"/></g>
<g transform="rotate(14 205 117)"><ellipse cx="205" cy="117" rx="6" ry="8.6" fill="#fff" stroke-width="1.98"/><ellipse cx="205.3" cy="117" rx="3.7" ry="6.3" fill="#fff" stroke-width="1.1"/></g>
<g transform="rotate(14 191 223)"><ellipse cx="191" cy="223" rx="7.8" ry="11.4" fill="#fff" stroke-width="2.2"/><ellipse cx="191.3" cy="223" rx="4.8" ry="8.4" fill="#fff" stroke-width="1.32"/></g>
<g transform="rotate(14 830 271.8)"><ellipse cx="830" cy="271.8" rx="8.6" ry="11.6" fill="#fff" stroke-width="2.2"/><ellipse cx="830.3" cy="271.8" rx="5.6" ry="8.6" fill="#fff" stroke-width="1.32"/></g>
<g transform="rotate(14 905 299)"><ellipse cx="905" cy="299" rx="6.3" ry="9" fill="#fff" stroke-width="1.87"/><ellipse cx="905.3" cy="299" rx="4.0" ry="6.7" fill="#fff" stroke-width="1.1"/></g>
<g transform="rotate(14 715.5 451.7)"><ellipse cx="715.5" cy="451.7" rx="8.6" ry="12" fill="#fff" stroke-width="2.2"/><ellipse cx="715.8" cy="451.7" rx="5.6" ry="9.0" fill="#fff" stroke-width="1.32"/></g>
<g transform="rotate(14 620.6 419)"><ellipse cx="620.6" cy="419" rx="4.8" ry="7" fill="#fff" stroke-width="1.98"/><ellipse cx="620.9" cy="419" rx="2.8" ry="5.0" fill="#fff" stroke-width="1.1"/></g>
<path d="M570.8 404.2 A8.2 11.4 0 1 1 572.1 399.8 L569.7 399.4 A5.799999999999999 9.0 0 1 0 568.8 402.8 Z" transform="rotate(14 564 397.8)" fill="#fff" stroke-width="1.76"/>
<path d="M1017.7 342.2 A9 12 0 1 1 1019.1 337.6 L1016.7 337.2 A6.6 9.6 0 1 0 1015.7 340.9 Z" transform="rotate(14 1010.2 335.5)" fill="#fff" stroke-width="1.76"/>
<g transform="rotate(14 807 164.7)"><path d="M803 158.7 L809 158.2 L812 161.7 L812 168.7 L808.5 171.7 L803 170.7 L801.5 164.7 Z" fill="#222" stroke-width="1.1"/><ellipse cx="807.8" cy="164.7" rx="2" ry="3" fill="#fff" stroke-width="0.8"/><ellipse cx="807.8" cy="164.7" rx="1" ry="1.6" fill="#222" stroke="none"/><line x1="803" y1="161.7" x2="805.5" y2="162.2" stroke="#fff" stroke-width="0.7"/><line x1="803" y1="167.7" x2="805.5" y2="167.7" stroke="#fff" stroke-width="0.7"/></g>
<g transform="rotate(14 971.7 143.4)"><path d="M967.7 137.4 L973.7 136.9 L976.7 140.4 L976.7 147.4 L973.2 150.4 L967.7 149.4 L966.2 143.4 Z" fill="#222" stroke-width="1.1"/><ellipse cx="972.5" cy="143.4" rx="2" ry="3" fill="#fff" stroke-width="0.8"/><ellipse cx="972.5" cy="143.4" rx="1" ry="1.6" fill="#222" stroke="none"/><line x1="967.7" y1="140.4" x2="970.2" y2="140.9" stroke="#fff" stroke-width="0.7"/><line x1="967.7" y1="146.4" x2="970.2" y2="146.4" stroke="#fff" stroke-width="0.7"/></g>
<g transform="translate(172.0 48.5) rotate(18.43)">
<path d="M3.0 -11.2 L13.0 -11.2 A3.8 11.2 0 0 1 13.0 11.2 L3.0 11.2 A3.8 11.2 0 0 1 3.0 -11.2 Z" fill="#1a1a1a" stroke-width="1.38"/>
<path d="M5.0 10.1 A3.8 11.2 0 0 1 5.0 -10.1" stroke="#fff" stroke-width="1.16" fill="none"/>
<path d="M8.3 10.1 A3.8 11.2 0 0 1 8.3 -10.1" stroke="#fff" stroke-width="1.16" fill="none"/>
<path d="M11.7 10.1 A3.8 11.2 0 0 1 11.7 -10.1" stroke="#fff" stroke-width="1.16" fill="none"/>
<ellipse cx="13.0" cy="0" rx="3.8" ry="11.2" fill="#fff" stroke-width="1.38"/>
<path d="M13.5 -10.2 L18.0 -10.2 A3.5 10.2 0 0 1 18.0 10.2 L13.5 10.2 A3.5 10.2 0 0 1 13.5 -10.2 Z" fill="#fff" stroke-width="1.38"/>
<ellipse cx="18.0" cy="0" rx="3.5" ry="10.2" fill="#fff" stroke-width="1.38"/>
<path d="M18.5 -6.8 L22.0 -6.8 A2.3 6.8 0 0 1 22.0 6.8 L18.5 6.8 A2.3 6.8 0 0 1 18.5 -6.8 Z" fill="#fff" stroke-width="1.38"/>
<ellipse cx="22.0" cy="0" rx="2.3" ry="6.8" fill="#fff" stroke-width="1.38"/>
<path d="M22.0 -6.2 L33.5 -6.2 A2.1 6.2 0 0 1 33.5 6.2 L22.0 6.2 A2.1 6.2 0 0 1 22.0 -6.2 Z" fill="#fff" stroke-width="1.38"/>
<ellipse cx="33.5" cy="0" rx="2.1" ry="6.2" fill="#fff" stroke-width="1.38"/>
<line x1="25.1" y1="2.8" x2="32.5" y2="2.8" stroke-width="0.8"/>
<path d="M33.5 -8.0 L38.5 -8.0 A2.7 8.0 0 0 1 38.5 8.0 L33.5 8.0 A2.7 8.0 0 0 1 33.5 -8.0 Z" fill="#1a1a1a" stroke-width="1.38"/>
<path d="M36.5 6.8 A2.7 8.0 0 0 1 36.5 -6.8" stroke="#fff" stroke-width="1.16" fill="none"/>
<ellipse cx="38.5" cy="0" rx="2.7" ry="8.0" fill="#fff" stroke-width="1.38"/>
<path d="M38.5 -8.0 L45.0 -8.0 A2.7 8.0 0 0 1 45.0 8.0 L38.5 8.0 A2.7 8.0 0 0 1 38.5 -8.0 Z" fill="#fff" stroke-width="1.38"/>
<ellipse cx="45.0" cy="0" rx="2.7" ry="8.0" fill="#fff" stroke-width="1.38"/>
<ellipse cx="45.3" cy="0" rx="1.6" ry="3.6" fill="#fff" stroke-width="1.21"/>
</g>
<g transform="translate(138.0 87.0) rotate(18.79)">
<path d="M3.0 -11.8 L13.0 -11.8 A4.0 11.8 0 0 1 13.0 11.8 L3.0 11.8 A4.0 11.8 0 0 1 3.0 -11.8 Z" fill="#1a1a1a" stroke-width="1.38"/>
<path d="M5.0 10.6 A4.0 11.8 0 0 1 5.0 -10.6" stroke="#fff" stroke-width="1.16" fill="none"/>
<path d="M8.3 10.6 A4.0 11.8 0 0 1 8.3 -10.6" stroke="#fff" stroke-width="1.16" fill="none"/>
<path d="M11.7 10.6 A4.0 11.8 0 0 1 11.7 -10.6" stroke="#fff" stroke-width="1.16" fill="none"/>
<ellipse cx="13.0" cy="0" rx="4.0" ry="11.8" fill="#fff" stroke-width="1.38"/>
<path d="M13.5 -10.8 L18.0 -10.8 A3.7 10.8 0 0 1 18.0 10.8 L13.5 10.8 A3.7 10.8 0 0 1 13.5 -10.8 Z" fill="#fff" stroke-width="1.38"/>
<ellipse cx="18.0" cy="0" rx="3.7" ry="10.8" fill="#fff" stroke-width="1.38"/>
<path d="M18.5 -7.2 L36.0 -7.2 A2.5 7.2 0 0 1 36.0 7.2 L18.5 7.2 A2.5 7.2 0 0 1 18.5 -7.2 Z" fill="#fff" stroke-width="1.38"/>
<ellipse cx="36.0" cy="0" rx="2.5" ry="7.2" fill="#fff" stroke-width="1.38"/>
<line x1="22.0" y1="3.3" x2="35.0" y2="3.3" stroke-width="0.8"/>
<path d="M36.0 -8.8 L41.0 -8.8 A3.0 8.8 0 0 1 41.0 8.8 L36.0 8.8 A3.0 8.8 0 0 1 36.0 -8.8 Z" fill="#1a1a1a" stroke-width="1.38"/>
<path d="M39.0 7.5 A3.0 8.8 0 0 1 39.0 -7.5" stroke="#fff" stroke-width="1.16" fill="none"/>
<ellipse cx="41.0" cy="0" rx="3.0" ry="8.8" fill="#fff" stroke-width="1.38"/>
<path d="M41.0 -8.8 L47.5 -8.8 A3.0 8.8 0 0 1 47.5 8.8 L41.0 8.8 A3.0 8.8 0 0 1 41.0 -8.8 Z" fill="#fff" stroke-width="1.38"/>
<ellipse cx="47.5" cy="0" rx="3.0" ry="8.8" fill="#fff" stroke-width="1.38"/>
<ellipse cx="47.8" cy="0" rx="1.9" ry="4.4" fill="#fff" stroke-width="1.21"/>
</g>
<g transform="translate(841.5 275.5) rotate(19.50)">
<path d="M3.0 -12.2 L13.0 -12.2 A4.2 12.2 0 0 1 13.0 12.2 L3.0 12.2 A4.2 12.2 0 0 1 3.0 -12.2 Z" fill="#1a1a1a" stroke-width="1.38"/>
<path d="M5.0 11.1 A4.2 12.2 0 0 1 5.0 -11.1" stroke="#fff" stroke-width="1.16" fill="none"/>
<path d="M8.3 11.1 A4.2 12.2 0 0 1 8.3 -11.1" stroke="#fff" stroke-width="1.16" fill="none"/>
<path d="M11.7 11.1 A4.2 12.2 0 0 1 11.7 -11.1" stroke="#fff" stroke-width="1.16" fill="none"/>
<ellipse cx="13.0" cy="0" rx="4.2" ry="12.2" fill="#fff" stroke-width="1.38"/>
<path d="M13.5 -11.2 L18.0 -11.2 A3.8 11.2 0 0 1 18.0 11.2 L13.5 11.2 A3.8 11.2 0 0 1 13.5 -11.2 Z" fill="#fff" stroke-width="1.38"/>
<ellipse cx="18.0" cy="0" rx="3.8" ry="11.2" fill="#fff" stroke-width="1.38"/>
<path d="M18.5 -7.5 L36.0 -7.5 A2.6 7.5 0 0 1 36.0 7.5 L18.5 7.5 A2.6 7.5 0 0 1 18.5 -7.5 Z" fill="#fff" stroke-width="1.38"/>
<ellipse cx="36.0" cy="0" rx="2.6" ry="7.5" fill="#fff" stroke-width="1.38"/>
<line x1="22.1" y1="3.4" x2="35.0" y2="3.4" stroke-width="0.8"/>
<path d="M36.0 -9.2 L41.0 -9.2 A3.1 9.2 0 0 1 41.0 9.2 L36.0 9.2 A3.1 9.2 0 0 1 36.0 -9.2 Z" fill="#1a1a1a" stroke-width="1.38"/>
<path d="M39.0 8.1 A3.1 9.2 0 0 1 39.0 -8.1" stroke="#fff" stroke-width="1.16" fill="none"/>
<ellipse cx="41.0" cy="0" rx="3.1" ry="9.2" fill="#fff" stroke-width="1.38"/>
<path d="M41.0 -9.2 L47.5 -9.2 A3.1 9.2 0 0 1 47.5 9.2 L41.0 9.2 A3.1 9.2 0 0 1 41.0 -9.2 Z" fill="#fff" stroke-width="1.38"/>
<ellipse cx="47.5" cy="0" rx="3.1" ry="9.2" fill="#fff" stroke-width="1.38"/>
<ellipse cx="47.8" cy="0" rx="2.1" ry="4.8" fill="#fff" stroke-width="1.21"/>
</g>
<path d="M5.1 163.0 C6.3 162.1 8.7 161.0 10.9 158.7 C13.1 156.4 15.2 154.6 15.9 151.4 C16.6 148.2 14.1 145.7 14.5 142.8 C14.9 139.9 17.5 139.6 18.1 137.0 C18.7 134.4 18.4 132.3 17.4 129.7 C16.4 127.1 15.2 126.6 13.0 124.0 C10.8 121.4 8.5 119.0 6.5 116.7 C4.5 114.4 3.6 114.4 2.9 112.4 C2.2 110.4 2.2 108.9 2.9 106.6 C3.6 104.3 5.9 103.1 6.5 100.8 C7.1 98.5 5.8 97.1 5.8 95.0 C5.8 92.9 5.9 92.5 6.5 90.1 C7.1 87.7 7.8 85.5 8.7 82.9 C9.6 80.3 11.2 79.9 10.9 77.1 C10.6 74.3 8.1 70.8 7.2 69.1 C6.3 67.4 5.8 69.7 6.5 68.4 C7.2 67.1 9.0 65.8 10.9 62.6 C12.8 59.4 14.3 55.4 15.9 52.5 C17.5 49.6 15.5 50.4 18.8 48.2 C22.1 46.0 29.4 43.6 32.6 41.6 C35.8 39.6 33.4 39.4 34.7 38.0 C36.0 36.6 36.7 35.7 39.0 34.4 C41.3 33.1 43.5 32.2 46.3 31.5 C49.1 30.8 49.6 31.8 52.8 30.8 C56.0 29.8 59.2 27.0 62.2 26.4 C65.2 25.8 65.7 28.1 68.0 27.9 C70.3 27.7 72.3 26.4 73.8 25.2 C75.3 24.0 73.8 22.0 75.5 22.0 C77.2 22.0 79.1 23.7 82.5 25.0 C85.9 26.3 89.9 27.2 92.6 28.6 C95.3 30.0 95.0 30.3 96.2 32.2 C97.4 34.1 97.5 36.0 98.4 38.0 C99.3 40.0 100.0 40.1 100.6 42.4 C101.2 44.7 100.7 46.4 101.3 49.6 C101.9 52.8 103.5 55.4 103.5 58.3 C103.5 61.2 103.5 61.4 101.3 64.0 C99.1 66.6 94.6 69.3 92.6 71.3 C90.6 73.3 90.9 71.0 91.2 74.2 C91.5 77.4 93.1 83.1 94.0 87.2 C94.9 91.3 94.3 92.4 95.5 94.5 C96.7 96.6 98.7 96.4 99.9 97.9 C101.1 99.4 101.3 99.3 101.3 102.2 C101.3 105.1 100.2 110.4 99.9 112.4" stroke-width="1.26" fill="none" />
<path d="M10.9 62.6 L21.7 67.0 L22.4 69.1 L18.8 73.5 L7.2 69.1" stroke-width="1.26" fill="none" />
<path d="M32.6 41.6 L47.8 48.2 L49.2 45.3 L52.1 40.9 L60.8 36.6 L52.8 30.8" stroke-width="1.26" fill="none" />
<path d="M60.8 36.6 L65.8 37.3 L78.9 31.5 L73.8 25.7" stroke-width="1.26" fill="none" />
<path d="M78.9 31.5 L92.6 28.6" stroke-width="1.26" fill="none" />
<path d="M47.8 48.2 C47.4 49.4 46.1 51.7 46.3 53.2 C46.5 54.7 46.6 54.5 48.5 54.7 C50.4 54.9 51.9 54.8 54.3 53.9 C56.7 53.0 56.9 51.0 58.6 51.0 C60.3 51.0 60.7 52.0 61.5 53.9 C62.3 55.8 63.4 56.8 62.2 59.0 C61.0 61.2 58.2 61.2 56.4 63.4 C54.6 65.6 54.5 65.9 54.3 68.4 C54.1 70.9 54.2 72.0 55.7 74.2 C57.2 76.4 59.6 76.3 60.8 77.8 C62.0 79.3 59.6 79.2 60.8 80.7 C62.0 82.2 63.4 84.6 65.8 84.3 C68.2 84.0 68.7 80.5 70.9 79.3 C73.1 78.1 70.2 81.2 75.3 79.3 C80.4 77.4 88.6 73.2 92.6 71.3" stroke-width="1.26" fill="none" />
<line x1="38.4" y1="51" x2="48.5" y2="55.4" stroke-width="1.26" />
<ellipse cx="50.6" cy="105" rx="13.5" ry="20.5" transform="rotate(17 50.6 105)" stroke-width="1.43" fill="#fff" />
<ellipse cx="50.3" cy="103.5" rx="9.2" ry="14.8" transform="rotate(17 50.3 103.5)" stroke-width="1.32" fill="#fff" />
<path d="M47 90.5 Q56.5 97 51.5 115.5" stroke-width="1.21" fill="none" />
<path d="M5.1 163.0 L4.3 165.0 L5.8 173.0 L12.3 176.6 L13.0 194.0 L15.9 209.9 L26.0 212.8 L34.7 209.9" stroke-width="1.26" fill="none" />
<path d="M5.1 163.0 C6.1 162.4 9.1 159.6 10.9 159.5 C12.7 159.4 14.8 160.8 15.9 162.6 C17.0 164.4 17.1 169.0 17.4 170.3" stroke-width="1.26" fill="none" />
<ellipse cx="10.5" cy="169.6" rx="3.2" ry="4.2" transform="rotate(-10 10.5 169.6)" stroke-width="1.1" fill="#fff" />
<ellipse cx="18.1" cy="186.7" rx="2.9" ry="3.7" transform="rotate(-10 18.1 186.7)" stroke-width="1.1" fill="#fff" />
<ellipse cx="20.3" cy="204" rx="3.3" ry="4.2" transform="rotate(-10 20.3 204)" stroke-width="1.1" fill="#fff" />
<path d="M21.7 157.2 C22.7 158.2 26.6 160.7 27.5 163.0 C28.4 165.3 26.9 169.5 26.8 170.8" stroke-width="1.26" fill="none" />
<path d="M26.8 170.8 L17.4 175.1" stroke-width="1.26" fill="none" />
<path d="M22.4 174.4 L25.3 185.3 L28.2 187.4 L28.9 179.5" stroke-width="1.26" fill="none" />
<line x1="12.3" y1="193.2" x2="25.3" y2="197.6" stroke-width="1.26" />
<line x1="12.6" y1="195.3" x2="25.3" y2="199.5" stroke-width="1.26" />
<path d="M28.9 179.5 L36.9 171.5 L43.4 165.9 L47.8 165.0" stroke-width="1.26" fill="none" />
<line x1="33.3" y1="175" x2="43.4" y2="165.9" stroke-width="1.26" />
<path d="M28.9 179.5 C29.0 180.2 28.7 178.9 29.7 183.8 C30.7 188.7 32.7 204.3 34.7 209.1 C36.8 213.9 39.4 211.6 42.0 212.8 C44.6 214.0 48.0 215.8 50.6 216.4 C53.2 217.0 55.2 217.1 57.9 216.4 C60.6 215.7 64.4 212.5 66.6 212.0 C68.8 211.5 68.9 213.7 70.9 213.5 C73.0 213.3 77.6 211.4 78.9 211.0" stroke-width="1.26" fill="none" />
<path d="M50.6 216.4 L44.9 185.3 L49.2 178.7 L58.6 165.0" stroke-width="1.26" fill="none" />
<ellipse cx="37.9" cy="193.2" rx="3.9" ry="4.7" transform="rotate(-10 37.9 193.2)" stroke-width="1.1" fill="#fff" />
<ellipse cx="42" cy="208.6" rx="3.4" ry="3.6" transform="rotate(0 42 208.6)" stroke-width="1.1" fill="#fff" />
<ellipse cx="62.2" cy="193.2" rx="2.5" ry="3.1" transform="rotate(20 62.2 193.2)" stroke-width="1.1" fill="#fff" />
<ellipse cx="81" cy="167.9" rx="2.2" ry="2.9" transform="rotate(20 81 167.9)" stroke-width="1.1" fill="#fff" />
<path d="M46.3 137.0 C46.5 136.8 46.0 136.8 47.8 135.5 C49.6 134.2 55.0 131.5 57.2 129.0 C59.4 126.5 59.1 122.7 60.8 120.3 C62.5 117.9 65.4 115.7 67.3 114.5 C69.2 113.3 70.8 113.0 72.4 113.1 C74.0 113.2 76.0 114.9 76.7 115.3" stroke-width="1.26" fill="none" />
<path d="M77.4 109.5 C77.8 108.2 79.0 107.0 80.3 106.6 C81.6 106.2 83.5 106.6 85.4 107.3 C87.3 108.0 90.6 109.6 91.9 110.9 C93.2 112.2 93.2 114.0 93.3 115.3 C93.4 116.6 93.7 118.0 92.6 118.9 C91.5 119.9 88.7 121.0 86.8 121.0 C84.9 121.0 82.5 120.0 81.0 118.9 C79.5 117.8 78.7 116.1 78.1 114.5 C77.5 112.9 77.0 110.8 77.4 109.5 Z" stroke-width="1.26" fill="#fff" />
<ellipse cx="89" cy="114.7" rx="2.9" ry="3.7" transform="rotate(15 89 114.7)" stroke-width="1.21" fill="#fff" />
<ellipse cx="89.2" cy="114.7" rx="1.4" ry="1.9" transform="rotate(15 89.2 114.7)" stroke-width="0.9" fill="#fff" />
<path d="M94.0 116.7 C95.2 116.1 98.6 113.8 101.3 113.1 C104.0 112.4 106.6 111.6 110.0 112.4 C113.4 113.2 119.2 116.6 121.6 118.2 C124.0 119.8 123.8 119.9 124.5 121.8 C125.2 123.7 125.2 127.8 125.9 129.7 C126.6 131.6 128.4 131.5 128.8 133.4 C129.2 135.3 128.2 140.0 128.1 141.3" stroke-width="1.26" fill="none" />
<path d="M46.3 137.0 C46.7 137.5 47.2 140.0 49.9 141.3 C52.6 142.6 65.5 148.3 69.5 147.8 C73.5 147.3 81.7 138.6 83.9 137.0 C86.1 135.4 87.3 135.3 88.3 134.1 C89.3 132.9 91.8 127.9 92.6 126.8 C93.4 125.7 92.3 125.6 95.5 124.7 C98.7 123.8 117.2 119.6 120.1 118.9" stroke-width="1.26" fill="none" />
<path d="M46.3 137.0 L46.3 141.3 L49.9 142.0" stroke-width="1.26" fill="none" />
<path d="M69.5 147.8 C68.5 148.2 65.2 148.7 63.7 150.0 C62.2 151.3 61.6 153.6 60.8 155.8 C59.9 158.0 59.3 160.6 58.6 163.0 C57.9 165.4 57.0 168.3 56.4 170.3 C55.8 172.3 55.2 174.2 55.0 175.0" stroke-width="1.26" fill="none" />
<path d="M49.9 142.0 L43.4 158.7 L44.1 163.0" stroke-width="1.26" fill="none" />
<line x1="69.5" y1="137" x2="78.9" y2="140.6" stroke-width="1.26" />
<line x1="76.7" y1="128.3" x2="86.8" y2="133.4" stroke-width="1.26" />
<path d="M76.7 115.3 C77.3 115.9 80.8 118.5 81.0 119.6 C81.2 120.7 79.2 121.7 78.1 123.2 C77.0 124.7 74.5 129.2 72.4 131.2 C70.3 133.2 64.1 137.1 62.2 138.4 C60.3 139.7 58.5 140.9 57.9 141.3" stroke-width="1.26" fill="none" />
<ellipse cx="62.7" cy="127.1" rx="1.5" ry="2" transform="rotate(20 62.7 127.1)" stroke-width="1.1" fill="#fff" />
<ellipse cx="69.9" cy="124.4" rx="1.5" ry="2" transform="rotate(20 69.9 124.4)" stroke-width="1.1" fill="#fff" />
<ellipse cx="96.7" cy="131.9" rx="2.5" ry="3.2" transform="rotate(20 96.7 131.9)" stroke-width="1.1" fill="#fff" />
<ellipse cx="119.8" cy="124.7" rx="2.5" ry="3" transform="rotate(20 119.8 124.7)" stroke-width="1.1" fill="#fff" />
<ellipse cx="67.7" cy="152.6" rx="2.5" ry="3" transform="rotate(20 67.7 152.6)" stroke-width="1.1" fill="#fff" />
<ellipse cx="60.8" cy="141.6" rx="1.7" ry="2.2" transform="rotate(20 60.8 141.6)" stroke-width="1.1" fill="#fff" />
<path d="M44.9 158.7 L56.4 163.0 L55.0 167.4" stroke-width="1.26" fill="none" />
<ellipse cx="48.5" cy="164.5" rx="2.9" ry="4" transform="rotate(-10 48.5 164.5)" stroke-width="1.1" fill="#fff" />
<path d="M158.0 118.9 C159.1 119.1 160.9 120.2 161.8 121.5 C162.7 122.8 162.8 123.3 163.7 127.8 C164.6 132.3 166.9 144.7 168.1 151.8 C169.3 158.9 171.0 169.6 171.9 175.0 C172.8 180.4 173.5 185.3 174.0 188.0 C174.5 190.7 175.6 191.3 175.3 192.8 C175.0 194.3 173.8 196.5 171.9 198.2 C170.0 199.9 164.2 203.0 162.4 204.3 C160.6 205.6 160.2 205.8 159.7 207.0 C159.2 208.2 159.6 211.2 159.0 212.5 C158.4 213.8 156.7 215.5 155.6 215.9 C154.5 216.3 152.8 215.7 151.6 215.2 C150.4 214.7 150.3 211.9 147.5 212.5 C144.7 213.1 135.2 217.5 132.6 219.3 C130.0 221.1 131.4 223.4 130.5 224.7 C129.6 226.0 127.7 227.7 126.5 228.0 C125.3 228.3 123.5 226.8 122.4 226.7 C121.3 226.6 120.7 226.8 119.0 227.4 C117.3 228.0 112.9 230.6 110.9 230.8 C108.9 231.0 107.7 228.6 105.4 228.8 C103.1 229.0 97.6 231.9 95.5 232.3 C93.4 232.7 92.5 232.4 91.2 231.6 C89.9 230.8 87.8 229.2 86.8 227.2 C85.8 225.2 85.3 221.5 84.7 218.5 C84.1 215.5 82.8 209.7 82.5 207.0 C82.2 204.3 81.9 202.4 82.5 200.5 C83.1 198.6 85.1 196.5 86.8 194.0 C88.5 191.5 92.0 187.1 94.0 183.8 C96.0 180.5 98.6 175.3 99.9 172.2 C101.2 169.1 101.0 165.0 102.7 163.0 C104.4 161.0 108.8 160.2 111.4 158.7 C114.0 157.2 117.5 154.7 120.1 152.9 C122.7 151.1 127.0 148.3 128.8 146.6 C130.6 144.9 130.1 143.1 132.0 141.8 C133.9 140.5 139.2 138.9 141.8 137.7 C144.4 136.5 147.9 135.8 149.3 134.0 C150.7 132.2 150.7 128.1 151.4 126.0 C152.1 123.9 153.2 121.3 154.2 120.2 C155.2 119.1 156.9 118.7 158.0 118.9 Z" stroke-width="1.43" fill="#fff" />
<path d="M95.5 232.3 C94.9 232.2 92.5 232.4 91.2 231.6 C89.9 230.8 87.8 229.2 86.8 227.2 C85.8 225.2 85.3 221.5 84.7 218.5 C84.1 215.5 82.8 209.7 82.5 207.0 C82.2 204.3 81.9 202.4 82.5 200.5 C83.1 198.6 85.1 196.5 86.8 194.0 C88.5 191.5 92.0 187.1 94.0 183.8 C96.0 180.5 98.6 175.3 99.9 172.2 C101.2 169.1 101.0 165.0 102.7 163.0 C104.4 161.0 108.8 160.2 111.4 158.7 C114.0 157.2 117.5 154.7 120.1 152.9 C122.7 151.1 127.0 148.3 128.8 146.6 C130.6 144.9 130.1 143.1 132.0 141.8 C133.9 140.5 139.2 138.9 141.8 137.7 C144.4 136.5 147.9 135.8 149.3 134.0 C150.7 132.2 150.7 128.1 151.4 126.0 C152.1 123.9 153.2 121.3 154.2 120.2 C155.2 119.1 156.9 118.7 158.0 118.9 C159.1 119.1 161.2 121.1 161.8 121.5" stroke-width="2.7" fill="none" />
<path d="M95.5 232.3 C94.9 232.2 92.5 232.4 91.2 231.6 C89.9 230.8 87.8 229.2 86.8 227.2 C85.8 225.2 85.3 221.5 84.7 218.5 C84.1 215.5 82.8 209.7 82.5 207.0 C82.2 204.3 81.9 202.4 82.5 200.5 C83.1 198.6 85.1 196.5 86.8 194.0 C88.5 191.5 92.0 187.1 94.0 183.8 C96.0 180.5 98.6 175.3 99.9 172.2 C101.2 169.1 101.0 165.0 102.7 163.0 C104.4 161.0 108.8 160.2 111.4 158.7 C114.0 157.2 117.5 154.7 120.1 152.9 C122.7 151.1 127.0 148.3 128.8 146.6 C130.6 144.9 130.1 143.1 132.0 141.8 C133.9 140.5 139.2 138.9 141.8 137.7 C144.4 136.5 147.9 135.8 149.3 134.0 C150.7 132.2 150.7 128.1 151.4 126.0 C152.1 123.9 153.2 121.3 154.2 120.2 C155.2 119.1 156.9 118.7 158.0 118.9 C159.1 119.1 161.2 121.1 161.8 121.5" stroke-width="0.6" fill="none" stroke="#fff"/>
<ellipse cx="157.3" cy="125.9" rx="1.6500000000000001" ry="2.53" transform="rotate(15 157.3 125.9)" stroke-width="1.32" fill="#fff" />
<ellipse cx="158.6" cy="133.5" rx="1.1" ry="1.4300000000000002" transform="rotate(15 158.6 133.5)" stroke-width="1.32" fill="#fff" />
<ellipse cx="159.2" cy="139.8" rx="1.6500000000000001" ry="2.4200000000000004" transform="rotate(15 159.2 139.8)" stroke-width="2.09" fill="#ddd" />
<ellipse cx="160.8" cy="146.5" rx="1.2100000000000002" ry="1.7600000000000002" transform="rotate(15 160.8 146.5)" stroke-width="1.32" fill="#fff" />
<ellipse cx="154.4" cy="150" rx="1.1" ry="1.4300000000000002" transform="rotate(15 154.4 150)" stroke-width="1.32" fill="#fff" />
<ellipse cx="135.8" cy="146.8" rx="1.7600000000000002" ry="2.4200000000000004" transform="rotate(15 135.8 146.8)" stroke-width="2.09" fill="#ddd" />
<ellipse cx="141.8" cy="151.2" rx="1.54" ry="2.2" transform="rotate(15 141.8 151.2)" stroke-width="2.09" fill="#ddd" />
<ellipse cx="150" cy="156.3" rx="1.7600000000000002" ry="2.2" transform="rotate(15 150 156.3)" stroke-width="2.09" fill="#ddd" />
<ellipse cx="164.6" cy="167.3" rx="1.6500000000000001" ry="2.2" transform="rotate(15 164.6 167.3)" stroke-width="1.32" fill="#fff" />
<ellipse cx="159" cy="170.8" rx="1.1" ry="1.54" transform="rotate(15 159 170.8)" stroke-width="1.32" fill="#fff" />
<ellipse cx="107.5" cy="167.7" rx="1.4300000000000002" ry="1.9800000000000002" transform="rotate(15 107.5 167.7)" stroke-width="2.09" fill="#ddd" />
<ellipse cx="164.9" cy="167.7" rx="1.54" ry="2.2" transform="rotate(15 164.9 167.7)" stroke-width="2.09" fill="#ddd" />
<ellipse cx="130.1" cy="178.6" rx="1.2100000000000002" ry="1.54" transform="rotate(15 130.1 178.6)" stroke-width="1.32" fill="#fff" />
<ellipse cx="120.6" cy="183.7" rx="1.54" ry="2.3100000000000005" transform="rotate(15 120.6 183.7)" stroke-width="1.32" fill="#fff" />
<ellipse cx="113.6" cy="187" rx="1.2100000000000002" ry="1.6500000000000001" transform="rotate(15 113.6 187)" stroke-width="1.32" fill="#fff" />
<ellipse cx="126.7" cy="187" rx="1.035" ry="1.1700000000000002" transform="rotate(15 126.7 187)" stroke-width="0.5" fill="#000" />
<ellipse cx="133" cy="190.8" rx="1.6099999999999999" ry="1.8199999999999998" transform="rotate(15 133 190.8)" stroke-width="0.5" fill="#000" />
<ellipse cx="147.1" cy="184.3" rx="1.38" ry="1.56" transform="rotate(15 147.1 184.3)" stroke-width="0.5" fill="#000" />
<ellipse cx="149.3" cy="191.2" rx="1.6500000000000001" ry="2.4200000000000004" transform="rotate(15 149.3 191.2)" stroke-width="2.09" fill="#ddd" />
<ellipse cx="165.1" cy="185.1" rx="2.64" ry="1.32" transform="rotate(-20 165.1 185.1)" stroke-width="1.32" fill="#fff" />
<ellipse cx="108.4" cy="204.8" rx="1.1" ry="2.53" transform="rotate(5 108.4 204.8)" stroke-width="1.32" fill="#fff" />
<ellipse cx="101.3" cy="209.1" rx="1.7600000000000002" ry="1.9800000000000002" transform="rotate(15 101.3 209.1)" stroke-width="2.09" fill="#ddd" />
<ellipse cx="117.4" cy="208.1" rx="0.9199999999999999" ry="1.04" transform="rotate(15 117.4 208.1)" stroke-width="0.5" fill="#000" />
<ellipse cx="125.8" cy="212.8" rx="0.9199999999999999" ry="1.04" transform="rotate(15 125.8 212.8)" stroke-width="0.5" fill="#000" />
<ellipse cx="139.6" cy="207.9" rx="0.9199999999999999" ry="1.04" transform="rotate(15 139.6 207.9)" stroke-width="0.5" fill="#000" />
<ellipse cx="102" cy="217.2" rx="2.09" ry="0.9900000000000001" transform="rotate(-20 102 217.2)" stroke-width="1.32" fill="#fff" />
<ellipse cx="115.6" cy="223.3" rx="2.3100000000000005" ry="1.1" transform="rotate(-20 115.6 223.3)" stroke-width="1.32" fill="#fff" />
<ellipse cx="126.9" cy="222" rx="1.7600000000000002" ry="2.4200000000000004" transform="rotate(15 126.9 222)" stroke-width="2.09" fill="#ddd" />
<ellipse cx="155.4" cy="210.5" rx="1.7600000000000002" ry="2.4200000000000004" transform="rotate(15 155.4 210.5)" stroke-width="2.09" fill="#ddd" />
<ellipse cx="93.1" cy="199" rx="1.1" ry="1.4300000000000002" transform="rotate(15 93.1 199)" stroke-width="2.09" fill="#ddd" />
<ellipse cx="94.1" cy="204.8" rx="1.1" ry="1.4300000000000002" transform="rotate(15 94.1 204.8)" stroke-width="2.09" fill="#ddd" />
<ellipse cx="95.5" cy="212.8" rx="1.2100000000000002" ry="1.54" transform="rotate(15 95.5 212.8)" stroke-width="2.09" fill="#ddd" />
<path d="M751.0 147.9 C748.3 146.9 734.3 141.9 730.8 140.7 C727.3 139.5 727.6 138.5 725.0 139.2 C722.4 139.9 714.9 145.4 711.2 145.7 C707.5 146.0 700.5 142.8 697.5 141.4 C694.5 140.0 690.6 138.9 688.8 134.9 C687.0 130.9 684.3 115.8 683.7 111.7 C683.1 107.6 683.4 107.0 684.5 104.5 C685.6 102.0 690.1 95.9 691.7 93.0 C693.3 90.1 695.7 86.0 696.8 82.9 C697.9 79.8 698.9 72.0 699.7 69.9 C700.5 67.8 701.5 67.5 702.6 67.0 C703.7 66.5 705.0 67.7 707.6 66.2 C710.2 64.7 719.2 58.0 722.1 56.1 C725.0 54.2 727.8 53.1 729.3 51.8 C730.8 50.5 731.8 47.5 733.0 46.7 C734.2 45.9 736.4 46.7 738.0 46.0 C739.6 45.3 742.4 43.2 745.3 41.6 C748.2 40.0 757.2 34.9 759.7 34.0 C762.2 33.1 762.6 34.5 764.1 34.8 C765.6 35.1 769.6 35.8 771.3 35.9 C773.0 36.0 775.2 35.1 777.1 35.4 C779.0 35.7 784.2 37.4 785.8 38.0 C787.4 38.6 788.7 39.2 789.4 40.2 C790.1 41.2 789.8 44.1 790.8 45.3 C791.8 46.5 795.3 46.2 796.6 48.9 C797.9 51.6 799.1 60.6 800.2 65.5 C801.3 70.4 804.6 82.4 804.6 85.8 C804.6 89.2 803.3 89.1 800.2 90.8 C797.1 92.5 783.9 97.7 781.4 98.8" stroke-width="1.32" fill="none" />
<path d="M790.8 45.3 C790.0 46.4 788.1 50.0 785.8 51.8 C783.5 53.6 779.5 54.9 777.1 56.1 C774.7 57.3 772.5 57.7 771.3 59.0 C770.1 60.3 769.4 62.4 769.9 64.1 C770.4 65.8 773.5 68.3 774.2 69.1" stroke-width="1.32" fill="none" />
<path d="M748.1 90.1 C747.8 88.4 746.4 84.9 746.7 81.4 C747.0 77.9 747.6 75.4 749.6 72.8 C751.6 70.2 754.2 69.1 756.8 68.4 C759.4 67.7 758.5 67.8 762.6 69.1 C766.7 70.4 774.2 73.8 777.1 75.0" stroke-width="1.32" fill="none" />
<line x1="746.7" y1="90.8" x2="759.7" y2="93" stroke-width="1.32" />
<path d="M768.5 78.0 C769.8 76.0 771.9 74.5 774.0 74.2 C776.1 74.0 779.4 74.7 781.0 76.5 C782.6 78.3 783.4 82.2 783.5 85.0 C783.6 87.8 782.8 90.8 781.5 93.0 C780.2 95.2 777.9 97.2 776.0 98.3 C774.1 99.4 771.3 98.5 770.0 99.5 C768.7 100.5 769.2 103.1 768.0 104.0 C766.8 104.9 764.4 105.2 763.0 104.8 C761.6 104.4 760.2 102.8 759.8 101.5 C759.4 100.2 759.9 98.0 760.8 96.8 C761.7 95.5 764.1 95.8 765.0 94.0 C765.9 92.2 765.6 88.7 766.2 86.0 C766.8 83.3 767.2 80.0 768.5 78.0 Z" stroke-width="1.43" fill="#fff" />
<ellipse cx="774.9" cy="86.3" rx="4.8" ry="7.8" transform="rotate(14 774.9 86.3)" stroke-width="1.32" fill="#fff" />
<ellipse cx="764" cy="100.2" rx="1.9" ry="2.4" transform="rotate(10 764 100.2)" stroke-width="1.32" fill="#fff" />
<line x1="733.7" y1="96.2" x2="757.5" y2="105" stroke-width="1.32" />
<line x1="739.5" y1="95.6" x2="759.7" y2="102.8" stroke-width="1.32" />
<line x1="769.9" y1="103.7" x2="790.1" y2="110.3" stroke-width="1.32" />
<line x1="756.8" y1="108.8" x2="777.1" y2="116" stroke-width="1.32" />
<line x1="738" y1="117.5" x2="749.6" y2="121.1" stroke-width="1.32" />
<line x1="780" y1="98.7" x2="803" y2="90" stroke-width="1.32" />
<line x1="794.5" y1="94.3" x2="795.2" y2="104.5" stroke-width="1.32" />
<line x1="786" y1="100.5" x2="793" y2="97.8" stroke-width="1.32" />
<path d="M745.3 129.1 C746.3 128.0 749.1 127.2 750.3 126.2 C751.5 125.2 752.2 122.9 753.2 122.6 C754.2 122.3 755.2 124.2 756.8 124.0 C758.4 123.8 762.0 122.1 764.0 121.1 C766.0 120.1 768.2 118.1 769.9 117.5 C771.6 116.9 774.1 117.4 775.6 116.8 C777.1 116.2 777.8 114.3 780.0 113.2 C782.2 112.1 788.1 110.7 790.1 109.5 C792.1 108.3 791.8 105.7 793.0 105.2 C794.2 104.7 797.1 105.1 798.1 105.9 C799.1 106.7 799.8 108.8 799.5 110.3 C799.2 111.8 796.4 113.8 795.9 116.0 C795.4 118.2 795.3 122.8 795.9 124.7 C796.5 126.6 799.4 127.1 800.2 128.4 C801.0 129.7 801.5 132.2 801.0 133.4 C800.5 134.6 798.2 135.9 796.6 136.3 C795.0 136.7 791.9 135.8 790.1 136.3 C788.3 136.8 786.4 139.6 784.3 139.9 C782.2 140.2 777.9 138.0 776.4 138.5 C774.9 139.0 774.7 142.1 774.2 143.5 C773.7 144.9 773.9 147.2 772.8 147.9 C771.7 148.6 768.7 147.6 767.0 147.9 C765.3 148.2 763.2 150.1 761.2 150.1 C759.2 150.1 755.4 148.7 753.9 147.9 C752.4 147.1 752.3 146.3 751.0 145.0 C749.7 143.7 746.4 140.9 745.3 139.2 C744.2 137.5 743.8 134.9 743.8 133.4 C743.8 131.9 744.3 130.2 745.3 129.1 Z" stroke-width="1.76" fill="#fff" />
<ellipse cx="761.2" cy="134.9" rx="7" ry="10" transform="rotate(12 761.2 134.9)" stroke-width="1.76" fill="#fff" />
<path d="M791.5 131.5 A7.8 10 0 1 1 790.5 119.5" transform="rotate(12 784.3 126.2)" stroke-width="1.76" fill="#fff"/>
<ellipse cx="748.3" cy="111.7" rx="5.2" ry="7.4" transform="rotate(12 748.3 111.7)" stroke-width="1.43" fill="#fff" />
<ellipse cx="748.3" cy="111.7" rx="3.3" ry="5.2" transform="rotate(12 748.3 111.7)" stroke-width="1.32" fill="#fff" />
<ellipse cx="795.2" cy="108.8" rx="2.1" ry="2.7" transform="rotate(12 795.2 108.8)" stroke-width="1.43" fill="#fff" />
<ellipse cx="747.4" cy="134.1" rx="2.1" ry="2.7" transform="rotate(12 747.4 134.1)" stroke-width="1.43" fill="#fff" />
<ellipse cx="771.3" cy="143.5" rx="2.1" ry="2.7" transform="rotate(12 771.3 143.5)" stroke-width="1.43" fill="#fff" />
<ellipse cx="754.7" cy="121.1" rx="2.6" ry="3.1" transform="rotate(12 754.7 121.1)" stroke-width="1.43" fill="#333" />
<ellipse cx="754.7" cy="121.1" rx="0.9" ry="1.1" transform="rotate(12 754.7 121.1)" stroke-width="0.5" fill="#fff" stroke="#fff"/>
<ellipse cx="770.6" cy="119.7" rx="2.6" ry="3.1" transform="rotate(12 770.6 119.7)" stroke-width="1.43" fill="#333" />
<ellipse cx="770.6" cy="119.7" rx="0.9" ry="1.1" transform="rotate(12 770.6 119.7)" stroke-width="0.5" fill="#fff" stroke="#fff"/>
<path d="M795.5 129 A2.4 2.6 0 1 1 795 134.5" stroke-width="1.43" fill="none" />
<path d="M1033.8 50.5 L1040.9 61.9 L1062.1 51.1 L1065.9 54.1 L1069.7 37.5 L1052.8 33.7 L1054.5 38.0 Z" stroke-width="0.8" fill="#000" />
<text x="1010.5" y="78.6" font-size="17.5" font-weight="bold" transform="rotate(-30 1010.5 78.6)" textLength="31" lengthAdjust="spacingAndGlyphs" style="stroke:#000;stroke-width:0.9px">FR.</text>
<path d="M362.0 262.0 C363.6 259.6 370.6 256.9 373.0 255.5 C375.4 254.1 383.7 249.8 386.0 248.0 C388.3 246.2 394.2 238.2 396.0 237.0 C397.8 235.8 401.8 236.7 404.0 236.0 C406.2 235.3 416.1 230.6 417.9 229.6 C419.7 228.6 420.1 226.1 422.3 225.8 C424.5 225.5 437.0 226.4 440.0 227.0 C443.0 227.6 451.1 230.5 452.7 231.5 C454.3 232.5 455.8 235.8 456.5 237.2 C457.2 238.6 459.2 243.1 459.7 245.4 C460.2 247.7 460.9 257.0 461.6 260.0 C462.3 263.0 466.2 272.9 466.6 275.2 C467.0 277.5 466.3 281.6 465.4 282.8 C464.5 284.0 458.6 285.9 457.8 287.2 C457.0 288.5 457.2 294.4 457.0 296.0 C456.8 297.6 456.6 301.4 455.5 303.0 C454.4 304.6 447.1 310.5 446.0 312.0 C444.9 313.5 444.9 317.0 444.0 318.0 C443.1 319.0 437.8 320.8 437.0 322.0 C436.2 323.2 436.3 328.5 436.0 330.0 C435.7 331.5 435.2 336.1 434.0 337.0 C432.8 337.9 426.2 339.0 424.0 338.5 C421.8 338.0 413.7 333.2 412.0 332.0 C410.3 330.8 409.7 326.4 407.0 326.0 C404.3 325.6 388.4 326.8 385.0 327.7 C381.6 328.6 375.3 334.9 373.0 335.3 C370.7 335.7 364.3 332.1 362.2 331.5 C360.1 330.9 353.4 329.8 352.0 329.0 C350.6 328.2 348.5 326.7 347.7 323.9 C346.9 321.1 344.2 303.8 343.9 301.0 C343.6 298.2 343.2 298.2 344.5 296.0 C345.8 293.8 354.8 282.4 356.5 279.0 C358.2 275.6 360.4 264.4 362.0 262.0 Z" stroke-width="0.1" fill="#fff" stroke="none"/>
<path d="M359.7 249.8 L373.0 255.5" stroke-width="1.21" fill="none"/>
<path d="M383.7 222.0 L390.7 270.0 L377.0 265.0" stroke-width="1.21" fill="none"/>
<path d="M414.7 222.0 L416.0 248.0 L409.7 245.4" stroke-width="1.21" fill="none"/>
<path d="M344.5 271.4 L357.8 277.7" stroke-width="1.21" fill="none"/>
<path d="M335.0 275.8 L354.0 281.5" stroke-width="1.21" fill="none"/>
<path d="M346.4 272.0 L360.3 277.0" stroke-width="1.21" fill="none"/>
<path d="M418.0 228.3 C418.3 226.8 419.4 225.8 421.0 225.6 C422.6 225.4 431.7 225.8 433.8 226.0 C435.9 226.2 440.2 227.1 442.0 227.6 C443.8 228.1 450.4 230.6 451.7 231.3 C453.0 232.0 454.4 233.5 455.0 234.2 C455.6 234.9 456.9 237.2 457.2 238.0 C457.5 238.8 458.6 241.9 458.4 242.6 C458.2 243.3 457.4 243.9 455.5 244.6 C453.6 245.3 441.4 249.7 439.0 250.0 C436.6 250.3 432.5 248.2 431.0 247.6 C429.5 247.0 424.9 244.5 423.6 243.8 C422.3 243.1 418.9 242.2 418.3 240.6 C417.7 239.0 417.7 229.8 418.0 228.3 Z" stroke-width="1.65" fill="#fff" />
<path d="M418.4 229.0 L421.2 226.2 L429.5 226.6 L431.0 232.5 L429.5 242.5 L424.0 243.0 L418.6 240.2 Z" stroke-width="0.8" fill="#111" />
<ellipse cx="421.2" cy="229.5" rx="0.8" ry="1.1" transform="rotate(0 421.2 229.5)" stroke-width="0.3" fill="#fff" stroke="#fff"/>
<ellipse cx="424.6" cy="228.6" rx="1.1" ry="0.8" transform="rotate(0 424.6 228.6)" stroke-width="0.3" fill="#fff" stroke="#fff"/>
<ellipse cx="421.4" cy="234.2" rx="0.7" ry="1.2" transform="rotate(0 421.4 234.2)" stroke-width="0.3" fill="#fff" stroke="#fff"/>
<ellipse cx="425.3" cy="233.2" rx="0.9" ry="1.3" transform="rotate(0 425.3 233.2)" stroke-width="0.3" fill="#fff" stroke="#fff"/>
<ellipse cx="422" cy="238.4" rx="0.8" ry="1.0" transform="rotate(0 422 238.4)" stroke-width="0.3" fill="#fff" stroke="#fff"/>
<ellipse cx="426.3" cy="238.6" rx="0.9" ry="1.2" transform="rotate(0 426.3 238.6)" stroke-width="0.3" fill="#fff" stroke="#fff"/>
<ellipse cx="428" cy="230.2" rx="0.7" ry="0.9" transform="rotate(0 428 230.2)" stroke-width="0.3" fill="#fff" stroke="#fff"/>
<path d="M431.5 228.3 L442.0 229.3 L452.0 233.4 L452.8 237.2 L439.0 243.8 L431.8 241.6 Z" stroke-width="1.21" fill="#fff" />
<path d="M432.4 240.3 L432.6 234.5 Q433 231 436.8 231 L441.5 231.6" stroke-width="2.42" fill="none" />
<ellipse cx="436.6" cy="237.6" rx="2.7" ry="2.3" transform="rotate(0 436.6 237.6)" stroke-width="2.31" fill="#fff" />
<ellipse cx="436.6" cy="237.6" rx="0.9" ry="0.8" transform="rotate(0 436.6 237.6)" stroke-width="0.5" fill="#000" />
<path d="M434.5 228.6 L440.5 229.3 L441 231.2" stroke-width="1.98" fill="none" />
<ellipse cx="447.2" cy="233.8" rx="1.7" ry="1.1" transform="rotate(15 447.2 233.8)" stroke-width="0.6" fill="#000" />
<path d="M424 243 L439 247.2 L455.8 241.2" stroke-width="1.21" fill="none" />
<path d="M390.5 242.5 C391.6 241.5 394.2 237.1 396.8 236.6 C399.4 236.1 403.4 239.4 405.8 239.7 C408.2 240.0 409.7 238.4 411.0 238.5 C412.3 238.6 413.1 239.8 413.5 240.0" stroke-width="1.49" fill="none" />
<path d="M396.8 236.6 L399.5 247.5" stroke-width="1.49" fill="none" />
<path d="M390.5 242.5 L393.0 247.0 L399.5 247.5 L409.0 250.5" stroke-width="1.49" fill="none" />
<ellipse cx="407.6" cy="243.2" rx="3.0" ry="3.8" transform="rotate(15 407.6 243.2)" stroke-width="1.32" fill="#1a1a1a" />
<ellipse cx="406.6" cy="242.2" rx="0.8" ry="1.0" transform="rotate(0 406.6 242.2)" stroke-width="0.3" fill="#fff" stroke="#fff"/>
<line x1="403" y1="240.5" x2="411.5" y2="243.5" stroke-width="1.1" />
<line x1="389.5" y1="238.8" x2="395.5" y2="242.0" stroke-width="1.1" />
<line x1="389.5" y1="243.0" x2="395.5" y2="245.78" stroke-width="1.1" />
<line x1="389.5" y1="247.20000000000002" x2="395.5" y2="249.56" stroke-width="1.1" />
<line x1="389.5" y1="251.4" x2="395.5" y2="253.34" stroke-width="1.1" />
<line x1="373.0" y1="256.2" x2="386.0" y2="248.8" stroke-width="1.1" />
<line x1="374.2" y1="259.4" x2="387.0" y2="252.20000000000002" stroke-width="1.1" />
<line x1="375.4" y1="262.59999999999997" x2="388.0" y2="255.60000000000002" stroke-width="1.1" />
<line x1="376.6" y1="265.8" x2="389.0" y2="259.0" stroke-width="1.1" />
<line x1="377.8" y1="269.0" x2="390.0" y2="262.40000000000003" stroke-width="1.1" />
<path d="M349.0 292.0 C350.6 288.8 356.2 277.7 358.4 272.6 C360.6 267.5 360.8 263.8 362.2 261.2 C363.6 258.6 364.8 257.8 366.6 256.8 C368.4 255.9 371.9 255.7 373.0 255.5" stroke-width="1.49" fill="none" />
<path d="M354.0 292.0 C355.4 287.7 360.3 271.2 362.2 266.0 C364.1 260.8 363.8 261.6 365.4 260.5 C367.0 259.4 370.1 259.3 371.7 259.4 C373.3 259.5 374.4 260.7 375.0 261.0" stroke-width="1.49" fill="none" />
<ellipse cx="376.3" cy="265.6" rx="3.8" ry="3.6" transform="rotate(0 376.3 265.6)" stroke-width="1.32" fill="#1a1a1a" />
<ellipse cx="375.4" cy="264.4" rx="1.1" ry="0.9" transform="rotate(0 375.4 264.4)" stroke-width="0.4" fill="#fff" stroke="#fff"/>
<ellipse cx="378" cy="270.6" rx="6" ry="3" transform="rotate(10 378 270.6)" stroke-width="1.32" fill="#fff" />
<ellipse cx="378" cy="270.2" rx="3.4" ry="1.6" transform="rotate(10 378 270.2)" stroke-width="1.1" fill="#333" />
<path d="M372 268.5 Q374 275 380 276.5" stroke-width="1.21" fill="none" />
<path d="M411 258 L442.6 267.5 L436 287.5 L409 280.9 Z" stroke-width="0.1" fill="#fff" stroke="none"/>
<path d="M411.0 258.0 C410.2 259.0 407.4 261.4 406.5 263.8 C405.6 266.2 405.5 269.8 405.9 272.6 C406.3 275.5 408.5 279.5 409.0 280.9" stroke-width="1.49" fill="none" />
<path d="M413.5 259.0 C412.9 260.0 410.4 262.5 409.7 265.0 C408.9 267.5 408.6 271.1 409.0 273.8 C409.4 276.6 411.7 280.2 412.2 281.5" stroke-width="1.1" fill="none" />
<line x1="411" y1="258" x2="436.5" y2="266.5" stroke-width="1.49" />
<line x1="409" y1="280.9" x2="430.5" y2="287.5" stroke-width="1.49" />
<path d="M400.8 251.0 L431.2 260.8 L429.0 263.3 L403.3 254.6 Z" stroke-width="1.1" fill="#fff" />
<path d="M403.4 261.2 L407.8 260.0 L406.5 266.3 L402.0 267.6 Z" stroke-width="0.8" fill="#1a1a1a" />
<line x1="404" y1="262" x2="405.5" y2="265.5" stroke-width="0.7" stroke="#fff"/>
<line x1="399" y1="249" x2="413" y2="253.5" stroke-width="1.1" />
<ellipse cx="436.3" cy="277.7" rx="6.4" ry="9.6" transform="rotate(14 436.3 277.7)" stroke-width="2.53" fill="#fff" />
<path d="M433.5 270.5 Q429.5 278 434.5 286.5" stroke-width="1.21" fill="none" />
<line x1="431" y1="274" x2="447" y2="279.5" stroke-width="1.1" />
<path d="M435.0 251.0 C435.9 250.2 440.7 248.3 442.6 247.3 C444.5 246.3 452.3 241.2 454.0 241.0 C455.7 240.8 458.9 243.5 459.7 245.4 C460.5 247.3 461.9 258.3 461.6 260.0 C461.3 261.7 458.4 262.0 456.5 262.5 C454.6 263.0 444.8 265.2 442.6 265.0 C440.5 264.8 435.9 261.0 435.0 260.0 C434.1 259.0 433.7 255.9 433.7 255.0 C433.7 254.1 434.1 251.8 435.0 251.0 Z" stroke-width="1.49" fill="#fff" />
<ellipse cx="437.2" cy="255.6" rx="2.8" ry="3.2" transform="rotate(0 437.2 255.6)" stroke-width="1.87" fill="#fff" />
<path d="M444 250.5 L452 247 L456.5 250.5 M447.5 256 L447 251.5 L455 252.5 L455.5 258.5 M451 253 L451.5 259.5" stroke-width="2.2" fill="none" />
<path d="M442.6 265.0 C444.5 264.6 459.2 260.2 461.6 261.2 C464.0 262.2 466.2 273.0 466.6 275.2 C467.0 277.4 466.3 281.6 465.4 282.8 C464.5 284.0 459.4 286.3 457.8 287.2 C456.2 288.1 450.4 291.4 449.0 291.5 C447.6 291.6 444.1 288.4 443.5 288.0" stroke-width="1.49" fill="none" />
<path d="M446 270.5 L456 266 L459.5 269 M447.5 276.5 L457 272.5 L462 274 M449.5 283 L458.5 279.2 L459 283.5 M444.5 266.5 L445.5 271" stroke-width="2.31" fill="none" />
<path d="M460.6 276.6 L463.6 275.6 L464.0 279.0 L461.0 280.0 Z" stroke-width="0.8" fill="#fff" />
<path d="M448.0 267.3 L455.5 264.8 L455.8 266.2 L448.2 269.0 Z" stroke-width="0.6" fill="#1a1a1a" />
<path d="M360.3 272.0 C359.9 272.8 358.3 276.2 356.5 279.0 C354.7 281.8 346.0 293.4 344.5 296.0 C343.0 298.6 343.5 297.7 343.9 301.0 C344.3 304.3 346.8 320.6 347.7 323.9 C348.6 327.2 350.8 328.3 352.0 329.0 C353.2 329.7 357.7 329.5 358.4 329.6" stroke-width="1.49" fill="none" />
<path d="M363.5 274.5 C363.1 275.4 361.7 279.8 360.3 282.0 C358.9 284.2 352.7 291.1 351.5 293.5 C350.3 295.9 349.9 299.0 350.2 302.4 C350.5 305.8 353.3 319.8 354.0 322.6 C354.7 325.4 355.8 326.1 356.5 326.4 C357.2 326.7 359.9 325.3 360.3 325.2" stroke-width="1.49" fill="none" />
<path d="M360.3 323.9 L367.9 318.2 L376.8 320.7 L385.0 327.7 L373.0 335.3 L362.2 331.5 Z" stroke-width="1.49" fill="#fff" />
<path d="M367.9 318.2 L371.7 323.9 L360.3 323.9" stroke-width="1.49" fill="none" />
<line x1="371.7" y1="323.9" x2="373" y2="335.3" stroke-width="1.49" />
<path d="M366.5 324.8 A2.6 2.8 0 1 0 367 329.8" stroke-width="1.65" fill="none" />
<ellipse cx="375.6" cy="328.3" rx="1.4" ry="2.5" transform="rotate(10 375.6 328.3)" stroke-width="1.32" fill="#fff" />
<path d="M358 303.5 Q354.5 309 358.5 314.5" stroke-width="1.49" fill="none" />
<line x1="358" y1="303.5" x2="368" y2="307" stroke-width="1.49" />
<line x1="358.5" y1="314.5" x2="366" y2="317" stroke-width="1.49" />
<ellipse cx="366" cy="309.4" rx="3.2" ry="4.6" transform="rotate(12 366 309.4)" stroke-width="1.43" fill="#fff" />
<ellipse cx="366.2" cy="309.4" rx="1.4" ry="2.2" transform="rotate(12 366.2 309.4)" stroke-width="1.1" fill="#1a1a1a" />
<line x1="369.2" y1="306.8" x2="392.6" y2="318.8" stroke-width="1.21" />
<line x1="368.5" y1="313.1" x2="407.2" y2="326.4" stroke-width="1.49" />
<line x1="372" y1="305" x2="410" y2="319.3" stroke-width="1.49" />
<path d="M377.5 297.0 C377.2 295.8 375.7 292.4 376.0 290.0 C376.3 287.6 377.5 284.4 379.5 282.5 C381.5 280.6 385.1 278.8 388.0 278.5 C390.9 278.2 394.8 279.2 397.0 281.0 C399.2 282.8 400.8 288.1 401.5 289.5" stroke-width="1.49" fill="none" />
<path d="M360.5 281 L374 286.5" stroke-width="1.49" fill="none" />
<path d="M360.0 283.0 C360.3 284.5 362.0 289.0 362.0 292.0 C362.0 295.0 360.3 299.5 360.0 301.0" stroke-width="1.49" fill="none" />
<path d="M376.8 294.2 L388.2 288.5 L403.4 295.4 L404.0 299.2 L400.8 302.4 L399.6 310.0 L385.6 306.2 L378.0 299.8 Z" stroke-width="1.49" fill="#fff" />
<line x1="376.8" y1="294.2" x2="386" y2="298.5" stroke-width="1.1" />
<line x1="386" y1="298.5" x2="403.4" y2="295.4" stroke-width="1.1" />
<line x1="386" y1="298.5" x2="385.6" y2="306.2" stroke-width="1.1" />
<ellipse cx="395.8" cy="296.7" rx="2.4" ry="1.5" transform="rotate(0 395.8 296.7)" stroke-width="1.1" fill="#1a1a1a" />
<line x1="397" y1="303.6" x2="398.3" y2="310" stroke-width="1.1" />
<line x1="375" y1="293.8" x2="370.5" y2="292.2" stroke-width="1.1" />
<line x1="397" y1="281" x2="426" y2="290.5" stroke-width="1.49" />
<line x1="403" y1="292" x2="421" y2="297.5" stroke-width="1.49" />
<path d="M443.5 288.0 C444.1 288.4 447.6 291.0 449.0 291.5 C450.4 292.0 454.5 291.9 455.5 292.5 C456.5 293.1 457.1 295.5 457.2 296.7 C457.3 297.9 456.7 301.4 456.0 302.4 C455.3 303.4 452.6 304.1 451.5 305.0 C450.4 305.9 447.2 308.8 446.5 310.0 C445.8 311.2 446.4 314.0 445.2 315.0 C444.0 316.0 437.5 317.3 436.3 318.8 C435.1 320.3 435.0 325.9 435.0 327.7 C435.0 329.5 436.3 332.8 436.3 334.0 C436.3 335.2 435.6 337.3 435.0 337.8 C434.4 338.3 432.5 338.4 431.2 338.5 C429.9 338.6 425.8 339.2 424.0 339.0 C422.2 338.8 417.4 337.4 416.0 336.5 C414.6 335.6 413.2 332.5 412.2 331.5 C411.2 330.5 407.7 328.7 407.2 327.7 C406.7 326.7 407.4 323.4 407.8 322.6 C408.2 321.8 409.9 321.3 411.0 320.7 C412.1 320.1 415.8 318.4 417.3 317.6 C418.8 316.8 422.3 314.4 423.6 313.8 C424.9 313.2 427.9 313.5 428.7 312.5 C429.5 311.5 430.2 306.8 430.5 305.0 C430.8 303.2 431.3 298.7 431.0 297.5 C430.7 296.3 428.8 295.4 428.0 295.0 C427.2 294.6 424.5 294.6 424.0 294.5" stroke-width="1.65" fill="#fff" />
<path d="M416.6 307.9 A5.6 7 0 1 1 416.2 298.7" transform="rotate(12 412.2 303.6)" stroke-width="2.2" fill="#fff"/>
<path d="M409.5 298 Q406.5 304 410 310" stroke-width="1.1" fill="none" />
<path d="M445.1 312.5 A6.8 9.4 0 1 1 444.6 299.2" transform="rotate(12 440 306.2)" stroke-width="2.09" fill="#fff"/>
<path d="M427.1 337.1 A7.4 10.6 0 1 1 429.7 321.6" transform="rotate(12 423.6 327.7)" stroke-width="2.09" fill="#fff"/>
<line x1="412.2" y1="303.6" x2="422.3" y2="306.8" stroke-width="1.1" />
<line x1="440" y1="305.5" x2="457" y2="312" stroke-width="1.1" />
<line x1="427" y1="327.2" x2="441" y2="332" stroke-width="1.1" />
<ellipse cx="425.5" cy="291" rx="1.6" ry="2.1" transform="rotate(10 425.5 291)" stroke-width="1.43" fill="#fff" />
<ellipse cx="453.4" cy="298" rx="1.7" ry="2.2" transform="rotate(10 453.4 298)" stroke-width="1.32" fill="#fff" />
<ellipse cx="409.7" cy="325.8" rx="1.9" ry="2.5" transform="rotate(10 409.7 325.8)" stroke-width="1.43" fill="#fff" />
<path d="M431.5 333 Q434.5 337 435 332.5" stroke-width="1.43" fill="none" />
<path d="M420.5 296 Q424.5 298.5 427.5 294" stroke-width="1.32" fill="none" />
<path d="M854.5 149.7 C852.4 151.6 854.2 161.3 854.5 162.7 C854.8 164.1 856.6 165.6 857.7 166.0 C858.8 166.4 865.6 167.6 867.5 168.1 C869.4 168.6 879.0 172.2 880.5 172.5 C882.0 172.8 883.8 172.6 885.9 171.4 C888.0 170.2 903.6 160.0 905.4 158.4 C907.2 156.8 907.6 152.8 907.6 151.9 C907.6 151.0 906.4 148.4 905.4 147.5 C904.4 146.6 898.1 141.6 896.0 141.0 C893.9 140.4 883.5 139.3 880.0 140.0 C876.5 140.7 856.6 147.8 854.5 149.7 Z" stroke-width="1.38" fill="#fff" />
<path d="M854.5 148.8 C857.0 145.4 891.9 121.5 896.8 118.3 C901.7 115.1 902.1 116.9 903.3 117.1 C904.5 117.3 907.9 119.2 908.7 120.2 C909.5 121.2 911.4 125.6 911.5 126.9 C911.6 128.2 910.4 132.4 909.8 133.4 C909.2 134.4 906.1 135.6 905.4 136.9 C904.7 138.2 903.8 144.6 903.0 146.0 C902.2 147.4 898.3 150.4 897.0 150.5 C895.7 150.6 892.5 146.8 890.0 147.0 C887.5 147.2 875.5 152.3 872.0 152.5 C868.5 152.7 852.0 152.2 854.5 148.8 Z" stroke-width="1.87" fill="#fff" />
<line x1="857" y1="149.5" x2="898" y2="120.5" stroke-width="1.21" />
<line x1="859.5" y1="150.5" x2="900.5" y2="122.8" stroke-width="1.21" />
<line x1="862.5" y1="151" x2="902" y2="125.5" stroke-width="1.21" />
<ellipse cx="906.4" cy="130.3" rx="2.8" ry="3.1" transform="rotate(0 906.4 130.3)" stroke-width="1.43" fill="#fff" />
<path d="M892 134 L898 131 L896 138 Z M899.5 137 L902 133 L902.5 140 Z" stroke-width="1.1" fill="#fff" />
<path d="M885 141.5 L896 134.5 M884 145 L893 141 L894 146.5" stroke-width="1.76" fill="none" />
<path d="M854.5 149.7 C856.1 149.9 861.9 149.9 864.3 150.8 C866.6 151.7 867.8 153.3 868.6 155.1 C869.4 156.9 869.7 159.8 869.1 161.6 C868.5 163.4 867.2 165.3 865.3 166.0 C863.4 166.7 859.0 166.0 857.7 166.0" stroke-width="1.38" fill="none" />
<ellipse cx="861.7" cy="158.4" rx="2.3" ry="2.9" transform="rotate(10 861.7 158.4)" stroke-width="1.43" fill="#fff" />
<path d="M871.5 150.8 Q874.8 158.0 871.1 165.6" stroke-width="1.65" fill="none" />
<path d="M874.8 151.3 Q878.0999999999999 158.5 874.4 166.4" stroke-width="1.65" fill="none" />
<path d="M878.2 151.8 Q881.5 159.0 877.8000000000001 167.2" stroke-width="1.65" fill="none" />
<path d="M881.6 152.3 Q884.9 159.5 881.2 168.0" stroke-width="1.65" fill="none" />
<path d="M869 153 L883 151 L884.5 167 L871 165.5 Z" stroke-width="0.1" fill="none" />
<ellipse cx="888.6" cy="155.2" rx="2.3" ry="3.5" transform="rotate(8 888.6 155.2)" stroke-width="1.54" fill="#fff" />
<ellipse cx="888.8" cy="155.4" rx="1.0" ry="1.8" transform="rotate(8 888.8 155.4)" stroke-width="0.8" fill="#fff" />
<ellipse cx="898.4" cy="145.9" rx="2.9" ry="3.3" transform="rotate(8 898.4 145.9)" stroke-width="2.09" fill="#fff" />
<path d="M893.5 149 L894.5 165 M899.5 150.5 L900 161" stroke-width="1.43" fill="none" />
<path d="M883.5 149 L894 146.5 L903 149.5" stroke-width="1.32" fill="none" />
<ellipse cx="883.8" cy="168.7" rx="1.5" ry="1.7" transform="rotate(0 883.8 168.7)" stroke-width="1.21" fill="#fff" />
<line x1="880.5" y1="172.5" x2="888" y2="167.5" stroke-width="1.1" />
<g transform="translate(842.8 161.0) rotate(171.67)">
<path d="M3.0 -4.0 L11.5 -4.0 A1.7 4.0 0 0 1 11.5 4.0 L3.0 4.0 A1.7 4.0 0 0 1 3.0 -4.0 Z" fill="#fff" stroke-width="1.38"/>
<ellipse cx="11.5" cy="0" rx="1.7" ry="4.0" fill="#fff" stroke-width="1.38"/>
<path d="M11.5 -5.5 L21.5 -5.5 A2.3 5.5 0 0 1 21.5 5.5 L11.5 5.5 A2.3 5.5 0 0 1 11.5 -5.5 Z" fill="#fff" stroke-width="1.38"/>
<ellipse cx="21.5" cy="0" rx="2.3" ry="5.5" fill="#fff" stroke-width="1.38"/>
<ellipse cx="21.8" cy="0" rx="1.4" ry="2.6" fill="#fff" stroke-width="1.21"/>
</g>
<path d="M842.8 161 L839.8 158 L840.6 164.6 Z" stroke-width="0.8" fill="#111" />
<ellipse cx="821.6" cy="164.1" rx="0.9" ry="1.2" transform="rotate(0 821.6 164.1)" stroke-width="0.5" fill="#000" />
<g transform="translate(957.3 145.2) rotate(170.04)">
<path d="M0.0 -5.5 L10.0 -5.5 A2.0 5.5 0 0 1 10.0 5.5 L0.0 5.5 A2.0 5.5 0 0 1 0.0 -5.5 Z" fill="#fff" stroke-width="1.38"/>
<ellipse cx="10.0" cy="0" rx="2.0" ry="5.5" fill="#fff" stroke-width="1.38"/>
<path d="M10.0 -4.1 L18.5 -4.1 A1.5 4.1 0 0 1 18.5 4.1 L10.0 4.1 A1.5 4.1 0 0 1 10.0 -4.1 Z" fill="#fff" stroke-width="1.38"/>
<ellipse cx="18.5" cy="0" rx="1.5" ry="4.1" fill="#fff" stroke-width="1.38"/>
<ellipse cx="18.8" cy="0" rx="1.0" ry="2.2" fill="#fff" stroke-width="1.21"/>
</g>
<path d="M956.5 140.2 Q960 145 957.5 150.2" stroke-width="1.76" fill="none" />
<line x1="950.5" y1="141.2" x2="950.9" y2="151.5" stroke-width="0.9" />
<path d="M546.7 141.5 L548.9 138.6 L552.5 138.6 L555.4 142.2 L554.7 147.3 L556.1 150.9 L561.9 181.2 L538.8 191.4 L535.2 189.2 L532.3 186.3 L530.1 182.7 L531.6 176.9 L529.4 166.8 L533.7 163.9 L538.8 161.7 L538.1 156.0 L534.5 149.5 L535.9 147.3 L542.4 143.7 Z" stroke-width="1.32" fill="#fff" />
<path d="M538.8 191.4 L535.2 189.2 L532.3 186.3 L530.1 182.7 L531.6 176.9 L529.4 166.8 L533.7 163.9 L538.8 161.7 L538.1 156.0 L534.5 149.5 L535.9 147.3 L542.4 143.7 L546.7 141.5 L548.9 138.6 L552.5 138.6 L555.4 142.2" stroke-width="2.8" fill="none" />
<path d="M538.8 191.4 L535.2 189.2 L532.3 186.3 L530.1 182.7 L531.6 176.9 L529.4 166.8 L533.7 163.9 L538.8 161.7 L538.1 156.0 L534.5 149.5 L535.9 147.3 L542.4 143.7 L546.7 141.5 L548.9 138.6 L552.5 138.6 L555.4 142.2" stroke-width="0.7" fill="none" stroke="#fff"/>
<ellipse cx="550.8" cy="145.8" rx="2.0" ry="2.4" transform="rotate(10 550.8 145.8)" stroke-width="1.76" fill="#fff" />
<ellipse cx="554" cy="165.3" rx="1.3" ry="1.8" transform="rotate(10 554 165.3)" stroke-width="1.1" fill="#fff" />
<ellipse cx="555.1" cy="171.8" rx="1.7" ry="2.4" transform="rotate(10 555.1 171.8)" stroke-width="1.65" fill="#555" />
<ellipse cx="556.6" cy="178.4" rx="1.3" ry="1.9" transform="rotate(10 556.6 178.4)" stroke-width="1.21" fill="#fff" />
<ellipse cx="537.1" cy="170.1" rx="1.4" ry="1.9" transform="rotate(10 537.1 170.1)" stroke-width="1.32" fill="#fff" />
<ellipse cx="537.1" cy="182" rx="1.8" ry="2.4" transform="rotate(10 537.1 182)" stroke-width="1.65" fill="#555" />
<path d="M577.8 172.6 C576.2 174.1 574.7 177.9 574.2 179.1 C573.7 180.3 573.4 181.6 573.5 182.7 C573.6 183.8 574.9 187.0 574.9 188.5 C574.9 190.0 573.6 194.3 573.5 195.7 C573.4 197.1 573.7 199.9 574.2 200.8 C574.7 201.7 576.7 203.1 577.8 203.6 C578.9 204.1 582.4 205.2 583.6 205.1 C584.8 205.0 585.5 203.2 587.9 202.9 C590.3 202.6 601.9 203.2 603.8 202.2 C605.7 201.2 603.8 195.6 604.5 194.2 C605.2 192.8 609.0 191.5 609.6 190.6 C610.2 189.7 610.1 187.1 609.6 186.3 C609.1 185.5 606.1 185.0 605.3 184.1 C604.5 183.2 603.6 179.9 603.1 178.4 C602.6 176.9 601.5 172.4 600.9 171.1 C600.3 169.8 599.5 168.1 598.0 167.5 C596.5 166.9 590.4 165.4 588.0 166.0 C585.6 166.6 579.4 171.1 577.8 172.6 Z" stroke-width="1.43" fill="#fff" />
<path d="M585.8 159.6 C587.1 158.5 587.0 156.0 587.9 155.2 C588.8 154.4 591.0 153.7 592.3 153.8 C593.6 153.9 596.3 155.1 597.3 156.0 C598.3 156.9 599.3 159.1 599.5 160.3 C599.7 161.5 599.4 164.3 598.8 165.3 C598.2 166.3 596.2 167.3 595.1 167.5 C594.0 167.7 591.8 167.3 590.8 166.8 C589.8 166.3 589.2 164.0 587.9 163.9 C586.6 163.8 581.7 165.2 580.7 166.1 C579.7 167.0 581.1 169.5 580.7 170.4 C580.3 171.3 578.4 173.0 577.8 172.6 C577.2 172.2 576.4 168.8 576.4 167.5 C576.4 166.2 576.5 164.3 577.8 163.2 C579.1 162.1 584.5 160.7 585.8 159.6 Z" stroke-width="1.43" fill="#fff" />
<ellipse cx="595.1" cy="161.4" rx="2.4" ry="2.9" transform="rotate(10 595.1 161.4)" stroke-width="1.76" fill="#fff" />
<ellipse cx="592" cy="184.2" rx="8" ry="2.6" transform="rotate(12 592 184.2)" stroke-width="1.32" fill="#fff" />
<line x1="584" y1="183" x2="584.5" y2="199" stroke-width="1.43" />
<line x1="600" y1="186" x2="603" y2="200.5" stroke-width="1.43" />
<path d="M584.5 199 Q592 204 603 200.5" stroke-width="1.1" fill="none" />
<path d="M593.5 172.5 L601.0 174.0 L602.5 181.0 L595.0 179.8 Z" stroke-width="1.1" fill="#1a1a1a" />
<line x1="595.5" y1="175.5" x2="601" y2="176.8" stroke-width="0.7" stroke="#fff"/>
<path d="M588.0 170.5 L594.0 171.5 L595.0 176.0 L589.0 175.0 Z" stroke-width="1.1" fill="#fff" />
<path d="M577.8 172.6 L586 176 L588 170.5 M586 176 L585 183" stroke-width="1.43" fill="none" />
<path d="M576 182 L581 178.5 L580 186 Z" stroke-width="0.9" fill="none" />
<ellipse cx="583.6" cy="200" rx="4.2" ry="4.6" transform="rotate(0 583.6 200)" stroke-width="1.43" fill="#fff" />
<ellipse cx="583.6" cy="200" rx="1.8" ry="2.2" transform="rotate(10 583.6 200)" stroke-width="1.65" fill="#fff" />
<ellipse cx="606.9" cy="188.8" rx="1.7" ry="2.2" transform="rotate(10 606.9 188.8)" stroke-width="1.43" fill="#fff" />
<ellipse cx="597" cy="189.5" rx="1.0" ry="1.4" transform="rotate(0 597 189.5)" stroke-width="0.8" fill="#fff" />
<line x1="588" y1="202" x2="597" y2="207" stroke-width="1.1" />
<path d="M624.2 331.3 C625.6 331.2 628.2 331.9 629.2 332.6 C630.2 333.3 631.5 334.9 631.8 336.4 C632.1 337.9 631.6 341.3 631.8 344.0 C632.0 346.7 632.6 354.5 633.0 356.6 C633.4 358.7 633.9 359.5 634.9 359.8 C635.9 360.1 639.3 358.4 640.6 358.5 C641.9 358.6 643.7 359.6 644.4 360.4 C645.1 361.2 645.8 363.1 645.7 364.2 C645.6 365.3 644.8 367.2 643.8 368.7 C642.8 370.2 639.7 373.7 638.1 375.6 C636.5 377.5 633.5 381.2 631.8 382.6 C630.1 384.0 626.9 385.9 625.4 386.4 C623.9 386.9 621.7 386.9 620.4 386.4 C619.1 385.9 617.6 385.7 615.9 382.6 C614.2 379.5 608.9 366.3 607.7 363.0 C606.5 359.7 606.7 360.1 607.1 357.9 C607.5 355.7 609.9 349.2 610.9 346.5 C611.9 343.8 613.7 339.5 614.7 337.7 C615.7 335.9 617.2 334.1 618.5 333.2 C619.8 332.3 622.8 331.4 624.2 331.3 Z" stroke-width="1.43" fill="#fff" />
<path d="M625.4 386.4 C624.7 386.4 621.7 386.9 620.4 386.4 C619.1 385.9 617.6 385.7 615.9 382.6 C614.2 379.5 608.9 366.3 607.7 363.0 C606.5 359.7 606.7 360.1 607.1 357.9 C607.5 355.7 609.9 349.2 610.9 346.5 C611.9 343.8 613.7 339.5 614.7 337.7 C615.7 335.9 617.2 334.1 618.5 333.2 C619.8 332.3 622.8 331.4 624.2 331.3 C625.6 331.2 628.5 332.4 629.2 332.6" stroke-width="2.6" fill="none" />
<path d="M625.4 386.4 C624.7 386.4 621.7 386.9 620.4 386.4 C619.1 385.9 617.6 385.7 615.9 382.6 C614.2 379.5 608.9 366.3 607.7 363.0 C606.5 359.7 606.7 360.1 607.1 357.9 C607.5 355.7 609.9 349.2 610.9 346.5 C611.9 343.8 613.7 339.5 614.7 337.7 C615.7 335.9 617.2 334.1 618.5 333.2 C619.8 332.3 622.8 331.4 624.2 331.3 C625.6 331.2 628.5 332.4 629.2 332.6" stroke-width="0.7" fill="none" stroke="#fff"/>
<path d="M619.7 341.5 C619.8 337.1 620.8 339.3 621.6 338.9 C622.4 338.5 624.5 338.0 625.4 338.3 C626.3 338.6 628.1 339.4 628.6 341.5 C629.1 343.6 628.9 349.9 629.2 354.1 C629.5 358.3 631.1 369.9 631.1 373.1 C631.1 376.3 630.0 377.4 629.2 378.2 C628.4 379.0 626.3 379.5 625.4 379.4 C624.5 379.3 622.9 378.5 622.3 377.5 C621.7 376.5 621.3 376.6 621.0 371.8 C620.7 367.0 619.6 345.9 619.7 341.5 Z" stroke-width="1.43" fill="#fff" />
<path d="M622.3 342.7 C622.6 340.1 624.2 340.6 624.8 340.8 C625.4 341.0 626.3 339.7 626.7 344.0 C627.1 348.3 628.1 368.8 628.0 373.1 C627.9 377.4 626.6 376.0 626.1 376.3 C625.6 376.6 624.4 377.2 623.9 375.0 C623.4 372.8 622.8 364.3 622.6 360.0 C622.4 355.7 622.0 345.3 622.3 342.7 Z" stroke-width="1.1" fill="none" />
<ellipse cx="614.3" cy="359.2" rx="1.6" ry="2.3" transform="rotate(10 614.3 359.2)" stroke-width="1.54" fill="#444" />
<ellipse cx="641.3" cy="365.8" rx="1.8" ry="2.3" transform="rotate(10 641.3 365.8)" stroke-width="1.43" fill="#fff" />
<line x1="643.8" y1="365.5" x2="655.2" y2="370.6" stroke-width="1.21" />
<path d="M735.3 455.3 C735.7 453.9 737.4 451.4 738.8 450.6 C740.2 449.8 745.0 448.9 747.1 448.8 C749.2 448.7 754.7 448.9 756.5 449.4 C758.3 449.9 760.8 452.1 762.4 452.9 C764.0 453.7 768.8 455.4 770.6 456.5 C772.4 457.6 776.4 461.2 777.6 462.4 C778.8 463.6 780.3 465.7 780.6 467.1 C780.9 468.5 780.5 472.7 780.0 474.1 C779.5 475.5 777.2 477.3 776.5 478.8 C775.8 480.3 774.8 486.0 774.1 487.1 C773.4 488.2 772.7 488.9 770.6 488.2 C768.5 487.5 760.1 482.8 756.5 481.2 C752.9 479.6 743.3 475.2 740.0 474.1 C736.7 473.0 729.7 473.2 728.2 471.8 C726.7 470.4 726.8 463.1 727.1 461.8 C727.4 460.5 729.6 460.5 730.6 460.6 C731.6 460.7 734.8 463.0 735.3 462.4 C735.8 461.8 734.9 456.7 735.3 455.3 Z" stroke-width="1.38" fill="#fff" />
<ellipse cx="740.4" cy="457.8" rx="4.8" ry="8.2" transform="rotate(14 740.4 457.8)" stroke-width="2.7" fill="#fff" />
<ellipse cx="742.6" cy="458.2" rx="3.4" ry="6.8" transform="rotate(14 742.6 458.2)" stroke-width="1.21" fill="#ddd" />
<path d="M750 450.5 Q746.5 459 750.5 469 M757 451.5 Q753.5 461 757.5 472 M763.5 454.5 Q760 464 764 475" stroke-width="1.21" fill="none" />
<line x1="744" y1="463" x2="760" y2="470" stroke-width="1.1" />
<ellipse cx="747.6" cy="461.2" rx="2.9" ry="4.1" transform="rotate(10 747.6 461.2)" stroke-width="1.43" fill="#fff" />
<ellipse cx="747.8" cy="461.4" rx="1.3" ry="2.0" transform="rotate(10 747.8 461.4)" stroke-width="1.1" fill="#fff" />
<ellipse cx="774" cy="470.2" rx="4.9" ry="7.4" transform="rotate(12 774 470.2)" stroke-width="1.87" fill="#fff" />
<ellipse cx="773.6" cy="470.6" rx="1.8" ry="2.7" transform="rotate(12 773.6 470.6)" stroke-width="1.65" fill="#555" />
<path d="M770 477 L769.5 482.5 L774.5 484.5" stroke-width="1.21" fill="none" />
<path d="M756.5 475.3 L770.6 481.2 L769.4 486.5 L756.5 480.6 Z" stroke-width="0.8" fill="#1a1a1a" />
<line x1="758.5" y1="477.0" x2="758.0" y2="480.5" stroke-width="0.6" stroke="#fff"/>
<line x1="760.9" y1="478.0" x2="760.4" y2="481.5" stroke-width="0.6" stroke="#fff"/>
<line x1="763.3" y1="479.0" x2="762.8" y2="482.5" stroke-width="0.6" stroke="#fff"/>
<line x1="765.7" y1="480.0" x2="765.2" y2="483.5" stroke-width="0.6" stroke="#fff"/>
<line x1="768.1" y1="481.0" x2="767.6" y2="484.5" stroke-width="0.6" stroke="#fff"/>
<path d="M727.1 461.8 L731.2 461.0 L731.8 465.3 L741.2 467.6 L740.6 471.2 L728.2 471.8 Z" stroke-width="1.65" fill="#fff" />
<line x1="731.8" y1="465.3" x2="728" y2="466" stroke-width="1.1" />
<path d="M704.7 480.8 L770.2 504.6 L771.5 545.0" stroke-width="1.21" fill="none"/>
<path d="M709.0 504.6 L719.0 505.8 L734.2 510.9 L745.6 514.7 L748.1 518.5 L749.4 521.6 L743.0 522.3 L740.5 518.5 L727.9 514.7 L709.0 510.3 L708.3 507.1 Z" stroke-width="1.43" fill="#fff" />
<line x1="711.0" y1="506.0" x2="710.6" y2="509.6" stroke-width="1.32" />
<line x1="714.4" y1="507.05" x2="714.0" y2="510.65000000000003" stroke-width="1.32" />
<line x1="717.8" y1="508.1" x2="717.4" y2="511.70000000000005" stroke-width="1.32" />
<line x1="721.2" y1="509.15" x2="720.8000000000001" y2="512.75" stroke-width="1.32" />
<line x1="724.6" y1="510.2" x2="724.2" y2="513.8000000000001" stroke-width="1.32" />
<line x1="728.0" y1="511.25" x2="727.6" y2="514.85" stroke-width="1.32" />
<line x1="731.4" y1="512.3" x2="731.0" y2="515.9" stroke-width="1.32" />
<line x1="734.8" y1="513.35" x2="734.4" y2="516.95" stroke-width="1.32" />
<line x1="738.2" y1="514.4" x2="737.8000000000001" y2="518.0" stroke-width="1.32" />
<line x1="710" y1="507.6" x2="740" y2="516.6" stroke-width="1.1" />
<ellipse cx="744.3" cy="515.2" rx="1.6" ry="1.3" transform="rotate(0 744.3 515.2)" stroke-width="1.43" fill="#fff" />
<path d="M743.5 519.0 L748.5 518.8 L749.0 521.3 L743.7 521.8 Z" stroke-width="0.9" fill="#fff" />
<path d="M707.7 521.0 L710.8 518.5 L722.9 521.0 L740.5 528.0 L739.9 532.4 L727.9 529.9 L710.2 524.2 Z" stroke-width="1.32" fill="#fff" />
<path d="M710.8 521.6 L727.9 527.3 L739.9 529.2" stroke-width="1.1" fill="none"/>
<line x1="722.9" y1="521" x2="727.9" y2="527.3" stroke-width="0.9" />
<path d="M790.5 493.2 L793.6 489.4 L803.7 492.6 L816.4 498.9 L821.4 502.7 L820.1 505.8 L815.1 506.5 L811.3 505.2 L803.7 501.4 L793.6 496.4 Z" stroke-width="1.32" fill="#fff" />
<path d="M793.6 492.6 L803.7 497.0 L812.0 499.5 L819.5 503.5" stroke-width="1.1" fill="none"/>
<line x1="801.2" y1="488.8" x2="801.8" y2="492.6" stroke-width="1.1" />
<path d="M811.0 500.0 L815.5 501.5 L816.2 506.0 L812.5 505.2 Z" stroke-width="0.8" fill="#222" />
<line x1="803.7" y1="492.6" x2="806" y2="498" stroke-width="0.9" />
<g transform="translate(427.3 402.8) rotate(-100.02)">
<path d="M0.5 -5.7 L12.5 -5.7 A2.5 5.7 0 0 1 12.5 5.7 L0.5 5.7 A2.5 5.7 0 0 1 0.5 -5.7 Z" fill="#fff" stroke-width="1.38"/>
<ellipse cx="12.5" cy="0" rx="2.5" ry="5.7" fill="#fff" stroke-width="1.38"/>
<path d="M12.5 -4.2 L19.5 -4.2 A1.9 4.2 0 0 1 19.5 4.2 L12.5 4.2 A1.9 4.2 0 0 1 12.5 -4.2 Z" fill="#fff" stroke-width="1.38"/>
<ellipse cx="19.5" cy="0" rx="1.9" ry="4.2" fill="#fff" stroke-width="1.38"/>
<path d="M19.5 -5.7 L29.5 -5.7 A2.5 5.7 0 0 1 29.5 5.7 L19.5 5.7 A2.5 5.7 0 0 1 19.5 -5.7 Z" fill="#fff" stroke-width="1.38"/>
<ellipse cx="29.5" cy="0" rx="2.5" ry="5.7" fill="#fff" stroke-width="1.38"/>
<ellipse cx="29.8" cy="0" rx="1.5" ry="2.6" fill="#fff" stroke-width="1.21"/>
</g>
<g transform="translate(452.0 406.2) rotate(-100.78)">
<path d="M0.5 -5.8 L10.0 -5.8 A2.6 5.8 0 0 1 10.0 5.8 L0.5 5.8 A2.6 5.8 0 0 1 0.5 -5.8 Z" fill="#fff" stroke-width="1.38"/>
<ellipse cx="10.0" cy="0" rx="2.6" ry="5.8" fill="#fff" stroke-width="1.38"/>
<path d="M10.0 -5.0 L11.8 -5.0 A2.2 5.0 0 0 1 11.8 5.0 L10.0 5.0 A2.2 5.0 0 0 1 10.0 -5.0 Z" fill="#1a1a1a" stroke-width="1.38"/>
<path d="M11.1 3.8 A2.2 5.0 0 0 1 11.1 -3.8" stroke="#fff" stroke-width="1.16" fill="none"/>
<ellipse cx="11.8" cy="0" rx="2.2" ry="5.0" fill="#fff" stroke-width="1.38"/>
<path d="M11.8 -5.8 L19.5 -5.8 A2.6 5.8 0 0 1 19.5 5.8 L11.8 5.8 A2.6 5.8 0 0 1 11.8 -5.8 Z" fill="#fff" stroke-width="1.38"/>
<ellipse cx="19.5" cy="0" rx="2.6" ry="5.8" fill="#fff" stroke-width="1.38"/>
<path d="M19.5 -5.0 L21.3 -5.0 A2.2 5.0 0 0 1 21.3 5.0 L19.5 5.0 A2.2 5.0 0 0 1 19.5 -5.0 Z" fill="#1a1a1a" stroke-width="1.38"/>
<path d="M20.6 3.8 A2.2 5.0 0 0 1 20.6 -3.8" stroke="#fff" stroke-width="1.16" fill="none"/>
<ellipse cx="21.3" cy="0" rx="2.2" ry="5.0" fill="#fff" stroke-width="1.38"/>
<path d="M21.3 -5.4 L28.0 -5.4 A2.4 5.4 0 0 1 28.0 5.4 L21.3 5.4 A2.4 5.4 0 0 1 21.3 -5.4 Z" fill="#fff" stroke-width="1.38"/>
<ellipse cx="28.0" cy="0" rx="2.4" ry="5.4" fill="#fff" stroke-width="1.38"/>
<path d="M28.0 -4.2 L31.0 -4.2 A1.9 4.2 0 0 1 31.0 4.2 L28.0 4.2 A1.9 4.2 0 0 1 28.0 -4.2 Z" fill="#fff" stroke-width="1.38"/>
<ellipse cx="31.0" cy="0" rx="1.9" ry="4.2" fill="#fff" stroke-width="1.38"/>
<path d="M31.0 -4.8 L41.5 -4.8 A2.2 4.8 0 0 1 41.5 4.8 L31.0 4.8 A2.2 4.8 0 0 1 31.0 -4.8 Z" fill="#fff" stroke-width="1.38"/>
<ellipse cx="41.5" cy="0" rx="2.2" ry="4.8" fill="#fff" stroke-width="1.38"/>
<ellipse cx="41.8" cy="0" rx="1.3" ry="2.2" fill="#fff" stroke-width="1.21"/>
</g>
<g transform="translate(428.2 409.2) rotate(76.34)">
<rect x="1" y="-2.3" width="27.6" height="4.6" rx="1.7" fill="#fff" stroke-width="1.43"/>
<ellipse cx="1.5" cy="0" rx="1.0" ry="2.3" fill="none" stroke-width="0.95" transform="rotate(8 1.5 0)"/>
<ellipse cx="4.2" cy="0" rx="1.0" ry="2.3" fill="none" stroke-width="0.95" transform="rotate(8 4.2 0)"/>
<ellipse cx="6.8" cy="0" rx="1.0" ry="2.3" fill="none" stroke-width="0.95" transform="rotate(8 6.8 0)"/>
<ellipse cx="9.5" cy="0" rx="1.0" ry="2.3" fill="none" stroke-width="0.95" transform="rotate(8 9.5 0)"/>
<ellipse cx="12.2" cy="0" rx="1.0" ry="2.3" fill="none" stroke-width="0.95" transform="rotate(8 12.2 0)"/>
<ellipse cx="14.8" cy="0" rx="1.0" ry="2.3" fill="none" stroke-width="0.95" transform="rotate(8 14.8 0)"/>
<ellipse cx="17.5" cy="0" rx="1.0" ry="2.3" fill="none" stroke-width="0.95" transform="rotate(8 17.5 0)"/>
<ellipse cx="20.1" cy="0" rx="1.0" ry="2.3" fill="none" stroke-width="0.95" transform="rotate(8 20.1 0)"/>
<ellipse cx="22.8" cy="0" rx="1.0" ry="2.3" fill="none" stroke-width="0.95" transform="rotate(8 22.8 0)"/>
<ellipse cx="25.5" cy="0" rx="1.0" ry="2.3" fill="none" stroke-width="0.95" transform="rotate(8 25.5 0)"/>
<ellipse cx="28.1" cy="0" rx="1.0" ry="2.3" fill="none" stroke-width="0.95" transform="rotate(8 28.1 0)"/>
</g>
<g transform="translate(452.0 411.4) rotate(77.42)">
<rect x="1" y="-2.1" width="43.0" height="4.2" rx="1.6" fill="#fff" stroke-width="1.43"/>
<ellipse cx="1.5" cy="0" rx="1.0" ry="2.1" fill="none" stroke-width="0.95" transform="rotate(8 1.5 0)"/>
<ellipse cx="4.3" cy="0" rx="1.0" ry="2.1" fill="none" stroke-width="0.95" transform="rotate(8 4.3 0)"/>
<ellipse cx="7.1" cy="0" rx="1.0" ry="2.1" fill="none" stroke-width="0.95" transform="rotate(8 7.1 0)"/>
<ellipse cx="9.9" cy="0" rx="1.0" ry="2.1" fill="none" stroke-width="0.95" transform="rotate(8 9.9 0)"/>
<ellipse cx="12.7" cy="0" rx="1.0" ry="2.1" fill="none" stroke-width="0.95" transform="rotate(8 12.7 0)"/>
<ellipse cx="15.5" cy="0" rx="1.0" ry="2.1" fill="none" stroke-width="0.95" transform="rotate(8 15.5 0)"/>
<ellipse cx="18.3" cy="0" rx="1.0" ry="2.1" fill="none" stroke-width="0.95" transform="rotate(8 18.3 0)"/>
<ellipse cx="21.1" cy="0" rx="1.0" ry="2.1" fill="none" stroke-width="0.95" transform="rotate(8 21.1 0)"/>
<ellipse cx="23.9" cy="0" rx="1.0" ry="2.1" fill="none" stroke-width="0.95" transform="rotate(8 23.9 0)"/>
<ellipse cx="26.7" cy="0" rx="1.0" ry="2.1" fill="none" stroke-width="0.95" transform="rotate(8 26.7 0)"/>
<ellipse cx="29.5" cy="0" rx="1.0" ry="2.1" fill="none" stroke-width="0.95" transform="rotate(8 29.5 0)"/>
<ellipse cx="32.3" cy="0" rx="1.0" ry="2.1" fill="none" stroke-width="0.95" transform="rotate(8 32.3 0)"/>
<ellipse cx="35.1" cy="0" rx="1.0" ry="2.1" fill="none" stroke-width="0.95" transform="rotate(8 35.1 0)"/>
<ellipse cx="37.9" cy="0" rx="1.0" ry="2.1" fill="none" stroke-width="0.95" transform="rotate(8 37.9 0)"/>
<ellipse cx="40.7" cy="0" rx="1.0" ry="2.1" fill="none" stroke-width="0.95" transform="rotate(8 40.7 0)"/>
<ellipse cx="43.5" cy="0" rx="1.0" ry="2.1" fill="none" stroke-width="0.95" transform="rotate(8 43.5 0)"/>
</g>
<path d="M422.2 447.2 C423.0 446.1 427.5 442.4 429.3 441.8 C431.1 441.2 434.0 442.3 435.8 442.8 C437.6 443.3 441.8 444.7 442.8 445.6 C443.8 446.5 444.0 448.2 443.4 449.3 C442.8 450.4 439.3 453.0 438.0 453.7 C436.7 454.4 435.6 454.6 433.6 454.2 C431.6 453.8 424.8 451.3 423.3 450.4 C421.8 449.5 421.4 448.3 422.2 447.2 Z" stroke-width="1.54" fill="#fff" />
<path d="M422.5 448.5 C424.3 449.1 430.1 452.2 433.5 452.0 C436.9 451.8 441.4 447.8 443.0 447.0" stroke-width="1.1" fill="none" />
<path d="M429.0 444.0 L434.0 442.8 L438.0 445.0 L433.5 447.5 Z" stroke-width="0.8" fill="#222" />
<path d="M456.4 465.8 L457.8 476 Q465.5 481.5 473.6 475.5 L471.8 465.8" stroke-width="1.43" fill="#fff" />
<ellipse cx="464" cy="465.8" rx="7.6" ry="4.3" transform="rotate(5 464 465.8)" stroke-width="1.98" fill="#fff" />
<ellipse cx="464.2" cy="466.4" rx="5.4" ry="2.8" transform="rotate(5 464.2 466.4)" stroke-width="1.76" fill="#fff" />
<path d="M461.5 488 L463.5 498.5 Q468.5 501.8 475.5 497 L476 488" stroke-width="1.32" fill="#fff" />
<path d="M462.2 491.5 Q468.5 495.5 476 491 M462.8 494.5 Q468.5 498.5 475.8 494" stroke-width="1.76" fill="none" />
<path d="M466.5 499.5 L467.0 502.6 L473.5 503.4 L474.0 499.0 Z" stroke-width="1.32" fill="#fff" />
<ellipse cx="468.6" cy="487.3" rx="7.6" ry="3.9" transform="rotate(5 468.6 487.3)" stroke-width="1.76" fill="#fff" />
<ellipse cx="467.8" cy="487.3" rx="2.2" ry="1.2" transform="rotate(5 467.8 487.3)" stroke-width="1.32" fill="#fff" />
<path d="M477.3 506.9 C477.9 506.4 481.2 505.9 483.0 505.6 C484.8 505.3 489.1 504.7 490.6 505.0 C492.1 505.3 493.7 507.3 494.4 508.2 C495.1 509.1 496.2 511.1 495.7 512.0 C495.2 512.9 492.3 514.5 490.6 515.1 C488.9 515.7 484.3 516.6 483.0 516.4 C481.7 516.2 480.8 514.4 481.1 513.9 C481.4 513.4 485.2 513.0 485.6 512.6 C486.0 512.2 485.2 511.1 484.3 510.7 C483.4 510.3 479.5 509.9 478.6 509.4 C477.7 508.9 476.7 507.4 477.3 506.9 Z" stroke-width="1.76" fill="#fff" />
<line x1="486" y1="512.8" x2="489.5" y2="514.8" stroke-width="1.32" />
<g transform="translate(203.5 229.8) rotate(18.83)">
<path d="M1.0 -12.0 L7.0 -12.0 A4.6 12.0 0 0 1 7.0 12.0 L1.0 12.0 A4.6 12.0 0 0 1 1.0 -12.0 Z" fill="#1a1a1a" stroke-width="1.38"/>
<path d="M2.8 10.8 A4.6 12.0 0 0 1 2.8 -10.8" stroke="#fff" stroke-width="1.16" fill="none"/>
<path d="M5.8 10.8 A4.6 12.0 0 0 1 5.8 -10.8" stroke="#fff" stroke-width="1.16" fill="none"/>
<ellipse cx="7.0" cy="0" rx="4.6" ry="12.0" fill="#fff" stroke-width="1.38"/>
<path d="M7.5 -11.2 L11.5 -11.2 A4.3 11.2 0 0 1 11.5 11.2 L7.5 11.2 A4.3 11.2 0 0 1 7.5 -11.2 Z" fill="#fff" stroke-width="1.38"/>
<ellipse cx="11.5" cy="0" rx="4.3" ry="11.2" fill="#fff" stroke-width="1.38"/>
<path d="M12.0 -4.5 L16.5 -4.5 A1.7 4.5 0 0 1 16.5 4.5 L12.0 4.5 A1.7 4.5 0 0 1 12.0 -4.5 Z" fill="#fff" stroke-width="1.38"/>
<ellipse cx="16.5" cy="0" rx="1.7" ry="4.5" fill="#fff" stroke-width="1.38"/>
<path d="M16.5 -3.0 L85.5 -3.0 A1.1 3.0 0 0 1 85.5 3.0 L16.5 3.0 A1.1 3.0 0 0 1 16.5 -3.0 Z" fill="#fff" stroke-width="1.38"/>
<ellipse cx="85.5" cy="0" rx="1.1" ry="3.0" fill="#fff" stroke-width="1.38"/>
</g>
<path d="M249 246 l1.5 -1.2 l3.5 1.2 l-0.3 1.6 M256 248.3 l0.5 -1.8 l4 1.3 M265 251.8 l1.8 -1.8 l8 2.7" stroke-width="1.32" fill="none" />
<ellipse cx="275.3" cy="253.8" rx="1.1" ry="0.9" transform="rotate(0 275.3 253.8)" stroke-width="0.8" fill="#fff" />
<ellipse cx="282.5" cy="256.5" rx="0.9" ry="1.8" transform="rotate(15 282.5 256.5)" stroke-width="0.9" fill="#fff" />
<line x1="285.5" y1="257.7" x2="295.4" y2="261.3" stroke-width="1.1" />
<ellipse cx="297.5" cy="262.3" rx="3.7" ry="9.2" transform="rotate(12 297.5 262.3)" stroke-width="2.9" fill="none" />
<ellipse cx="304.3" cy="264.3" rx="3.45" ry="8.25" transform="rotate(12 304.3 264.3)" stroke-width="2.9" fill="none" />
<ellipse cx="311" cy="266.3" rx="3.2" ry="7.299999999999999" transform="rotate(12 311 266.3)" stroke-width="2.9" fill="none" />
<ellipse cx="317.7" cy="268.2" rx="2.95" ry="6.35" transform="rotate(12 317.7 268.2)" stroke-width="2.9" fill="none" />
<ellipse cx="324" cy="270" rx="2.7" ry="5.3999999999999995" transform="rotate(12 324 270)" stroke-width="2.9" fill="none" />
<ellipse cx="328" cy="271.3" rx="1.8" ry="3.6" transform="rotate(12 328 271.3)" stroke-width="1.98" fill="none" />
<line x1="329.7" y1="272.6" x2="355.8" y2="281.2" stroke-width="1.1" />
<g transform="translate(347.8 336.4) rotate(154.80)">
<path d="M0.0 -4.5 L2.5 -4.5 A1.7 4.5 0 0 1 2.5 4.5 L0.0 4.5 A1.7 4.5 0 0 1 0.0 -4.5 Z" fill="#1a1a1a" stroke-width="1.38"/>
<path d="M1.5 3.3 A1.7 4.5 0 0 1 1.5 -3.3" stroke="#fff" stroke-width="1.16" fill="none"/>
<ellipse cx="2.5" cy="0" rx="1.7" ry="4.5" fill="#fff" stroke-width="1.38"/>
<path d="M2.5 -4.5 L6.5 -4.5 A1.7 4.5 0 0 1 6.5 4.5 L2.5 4.5 A1.7 4.5 0 0 1 2.5 -4.5 Z" fill="#fff" stroke-width="1.38"/>
<ellipse cx="6.5" cy="0" rx="1.7" ry="4.5" fill="#fff" stroke-width="1.38"/>
<path d="M6.5 -3.0 L12.5 -3.0 A1.1 3.0 0 0 1 12.5 3.0 L6.5 3.0 A1.1 3.0 0 0 1 6.5 -3.0 Z" fill="#fff" stroke-width="1.38"/>
<ellipse cx="12.5" cy="0" rx="1.1" ry="3.0" fill="#fff" stroke-width="1.38"/>
<path d="M12.5 -5.2 L27.5 -5.2 A2.0 5.2 0 0 1 27.5 5.2 L12.5 5.2 A2.0 5.2 0 0 1 12.5 -5.2 Z" fill="#fff" stroke-width="1.38"/>
<ellipse cx="27.5" cy="0" rx="2.0" ry="5.2" fill="#fff" stroke-width="1.38"/>
</g>
<ellipse cx="322.5" cy="348.3" rx="3.0" ry="4.6" transform="rotate(-25 322.5 348.3)" stroke-width="1.32" fill="#1a1a1a" />
<ellipse cx="322.9" cy="348.1" rx="0.9" ry="1.3" transform="rotate(-25 322.9 348.1)" stroke-width="0.4" fill="#fff" stroke="#fff"/>
<line x1="348.7" y1="335.3" x2="356.8" y2="331.5" stroke-width="1.1" />
<g transform="translate(279.3 368.4) rotate(-23.39)">
<rect x="0" y="-2.4" width="39.5" height="4.8" rx="1.4" fill="#111" stroke-width="0.8"/>
<path d="M3.4 -1.1 Q1.3 -0.5 1.9 0.8" stroke="#fff" stroke-width="0.55" fill="none"/>
<path d="M5.8 -1.1 Q3.7 -0.5 4.3 0.8" stroke="#fff" stroke-width="0.55" fill="none"/>
<path d="M8.2 -1.1 Q6.1 -0.5 6.7 0.8" stroke="#fff" stroke-width="0.55" fill="none"/>
<path d="M10.6 -1.1 Q8.5 -0.5 9.1 0.8" stroke="#fff" stroke-width="0.55" fill="none"/>
<path d="M13.0 -1.1 Q10.9 -0.5 11.5 0.8" stroke="#fff" stroke-width="0.55" fill="none"/>
<path d="M15.4 -1.1 Q13.3 -0.5 13.9 0.8" stroke="#fff" stroke-width="0.55" fill="none"/>
<path d="M17.7 -1.1 Q15.6 -0.5 16.2 0.8" stroke="#fff" stroke-width="0.55" fill="none"/>
<path d="M20.1 -1.1 Q18.0 -0.5 18.6 0.8" stroke="#fff" stroke-width="0.55" fill="none"/>
<path d="M22.5 -1.1 Q20.4 -0.5 21.0 0.8" stroke="#fff" stroke-width="0.55" fill="none"/>
<path d="M24.9 -1.1 Q22.8 -0.5 23.4 0.8" stroke="#fff" stroke-width="0.55" fill="none"/>
<path d="M27.3 -1.1 Q25.2 -0.5 25.8 0.8" stroke="#fff" stroke-width="0.55" fill="none"/>
<path d="M29.7 -1.1 Q27.6 -0.5 28.2 0.8" stroke="#fff" stroke-width="0.55" fill="none"/>
<path d="M32.0 -1.1 Q29.9 -0.5 30.5 0.8" stroke="#fff" stroke-width="0.55" fill="none"/>
<path d="M34.4 -1.1 Q32.3 -0.5 32.9 0.8" stroke="#fff" stroke-width="0.55" fill="none"/>
<path d="M36.8 -1.1 Q34.7 -0.5 35.3 0.8" stroke="#fff" stroke-width="0.55" fill="none"/>
<path d="M39.2 -1.1 Q37.1 -0.5 37.7 0.8" stroke="#fff" stroke-width="0.55" fill="none"/>
</g>
<path d="M258.3 372.0 C258.2 370.0 259.2 368.3 260.5 367.8 C261.8 367.3 265.0 368.0 267.0 368.6 C269.0 369.2 272.8 370.2 274.0 371.8 C275.2 373.4 275.4 377.7 275.3 379.5 C275.2 381.3 274.6 382.9 273.6 383.6 C272.6 384.3 270.4 384.5 268.5 384.2 C266.6 383.9 262.5 383.2 261.0 381.4 C259.5 379.6 258.4 374.0 258.3 372.0 Z" stroke-width="1.76" fill="#fff" />
<path d="M261.0 374.0 C261.1 372.7 262.0 371.1 263.4 371.0 C264.8 370.9 269.0 371.9 270.3 373.0 C271.6 374.1 271.9 377.1 271.8 378.3 C271.7 379.5 270.9 381.0 269.5 381.2 C268.1 381.4 263.9 380.5 262.6 379.4 C261.3 378.3 260.9 375.3 261.0 374.0 Z" stroke-width="1.21" fill="#fff" />
<path d="M263.5 374.2 L269.5 375.7 L270.0 379.6 L264.0 378.6 Z" stroke-width="0.8" fill="#222" />
<path d="M373.9 55.9 C372.7 56.1 370.9 57.0 370.3 58.0 C369.7 59.0 369.3 61.2 369.2 63.1 C369.1 65.0 369.5 70.8 369.9 72.5 C370.3 74.2 371.2 75.0 372.5 75.8 C373.8 76.6 378.1 78.2 379.7 78.3 C381.3 78.4 383.0 77.1 384.8 76.2 C386.6 75.3 392.0 72.1 393.5 71.8 C395.0 71.5 395.0 73.7 395.7 74.0 C396.4 74.3 398.1 74.4 398.6 74.0 C399.1 73.6 399.5 72.0 399.3 71.1 C399.1 70.2 398.6 68.5 397.1 67.5 C395.6 66.5 390.8 65.3 388.4 63.8 C386.0 62.3 380.9 57.7 379.0 56.6 C377.1 55.5 375.1 55.7 373.9 55.9 Z" stroke-width="1.87" fill="#fff" />
<path d="M373.9 57.7 L372.1 61.7 L372.5 69.6 L373.9 71.8 L386.2 65.3 L377.5 58.4 Z" stroke-width="1.1" fill="#fff" />
<path d="M373.9 71.8 L379.0 75.4 L394.9 68.9 L388.4 64.9 Z" stroke-width="1.1" fill="#fff" />
<ellipse cx="375.7" cy="62.4" rx="1.6" ry="2.4" transform="rotate(10 375.7 62.4)" stroke-width="1.65" fill="#555" />
<ellipse cx="381.2" cy="71.4" rx="2.4" ry="1.2" transform="rotate(-8 381.2 71.4)" stroke-width="1.32" fill="#fff" />
<ellipse cx="397" cy="72.5" rx="1.6" ry="1.4" transform="rotate(0 397 72.5)" stroke-width="1.32" fill="#333" />
<g transform="translate(575.0 404.3) rotate(15.61)">
<path d="M1.0 -10.0 L11.0 -10.0 A3.4 10.0 0 0 1 11.0 10.0 L1.0 10.0 A3.4 10.0 0 0 1 1.0 -10.0 Z" fill="#1a1a1a" stroke-width="1.38"/>
<path d="M3.0 8.8 A3.4 10.0 0 0 1 3.0 -8.8" stroke="#fff" stroke-width="1.16" fill="none"/>
<path d="M6.3 8.8 A3.4 10.0 0 0 1 6.3 -8.8" stroke="#fff" stroke-width="1.16" fill="none"/>
<path d="M9.7 8.8 A3.4 10.0 0 0 1 9.7 -8.8" stroke="#fff" stroke-width="1.16" fill="none"/>
<ellipse cx="11.0" cy="0" rx="3.4" ry="10.0" fill="#fff" stroke-width="1.38"/>
<path d="M11.5 -9.2 L19.0 -9.2 A3.1 9.2 0 0 1 19.0 9.2 L11.5 9.2 A3.1 9.2 0 0 1 11.5 -9.2 Z" fill="#fff" stroke-width="1.38"/>
<ellipse cx="19.0" cy="0" rx="3.1" ry="9.2" fill="#fff" stroke-width="1.38"/>
<path d="M19.5 -8.0 L26.0 -8.0 A2.7 8.0 0 0 1 26.0 8.0 L19.5 8.0 A2.7 8.0 0 0 1 19.5 -8.0 Z" fill="#fff" stroke-width="1.38"/>
<ellipse cx="26.0" cy="0" rx="2.7" ry="8.0" fill="#fff" stroke-width="1.38"/>
<path d="M26.5 -7.2 L33.5 -7.2 A2.5 7.2 0 0 1 33.5 7.2 L26.5 7.2 A2.5 7.2 0 0 1 26.5 -7.2 Z" fill="#1a1a1a" stroke-width="1.38"/>
<path d="M28.6 6.0 A2.5 7.2 0 0 1 28.6 -6.0" stroke="#fff" stroke-width="1.16" fill="none"/>
<path d="M32.1 6.0 A2.5 7.2 0 0 1 32.1 -6.0" stroke="#fff" stroke-width="1.16" fill="none"/>
<ellipse cx="33.5" cy="0" rx="2.5" ry="7.2" fill="#fff" stroke-width="1.38"/>
<ellipse cx="33.8" cy="0" rx="1.5" ry="3.3" fill="#fff" stroke-width="1.21"/>
</g>
<path d="M1031 333.2 L1044 331.6 Q1049 332 1052.8 334.9 L1057.6 328.6 Q1062.5 325.8 1067 329.6 Q1069.3 334.5 1065 339.3 L1060.3 339.8 L1062.8 343.6 L1066.5 354 L1061 366 L1053.8 363.8 L1047.8 362.3 L1038.9 362.8 L1031.9 359.8 L1027.5 354 Z" stroke-width="1.49" fill="#fff" />
<ellipse cx="1029.9" cy="346.9" rx="4.2" ry="14.6" transform="rotate(14 1029.9 346.9)" stroke-width="2.5" fill="#fff" />
<ellipse cx="1033.6" cy="346.6" rx="3.6" ry="12.8" transform="rotate(14 1033.6 346.6)" stroke-width="1.32" fill="#fff" />
<path d="M1037 334.8 Q1046 333.2 1053.5 337.8 M1040.5 338.5 Q1047 336.6 1052 339.5" stroke-width="1.32" fill="none" />
<ellipse cx="1063.8" cy="335" rx="2.0" ry="2.8" transform="rotate(12 1063.8 335)" stroke-width="1.54" fill="#fff" />
<ellipse cx="1061.8" cy="354.3" rx="4.8" ry="11" transform="rotate(14 1061.8 354.3)" stroke-width="1.65" fill="#fff" />
<ellipse cx="1063.6" cy="354.8" rx="4.0" ry="9.6" transform="rotate(14 1063.6 354.8)" stroke-width="1.1" fill="#fff" />
<path d="M1063 345.5 L1074.5 350.8 L1075 365 L1064 365.8 Z" stroke-width="0.1" fill="#fff" stroke="none"/>
<line x1="1062.8" y1="344.4" x2="1074" y2="350.6" stroke-width="1.49" />
<line x1="1063.8" y1="365.9" x2="1074.4" y2="364.9" stroke-width="1.49" />
<ellipse cx="1073.5" cy="357.8" rx="4.5" ry="7.2" transform="rotate(14 1073.5 357.8)" stroke-width="1.65" fill="#fff" />
<ellipse cx="1073.5" cy="357.8" rx="2.0" ry="3.0" transform="rotate(14 1073.5 357.8)" stroke-width="1.43" fill="#fff" />
<path d="M1036.4 343.4 L1044.9 342.7 L1048.3 348.8 L1053.3 352.8 L1052.3 362.5" stroke-width="1.49" fill="none" />
<ellipse cx="1039.4" cy="346" rx="1.6" ry="2.1" transform="rotate(12 1039.4 346)" stroke-width="1.43" fill="#fff" />
<path d="M1038 352.5 L1044 354.8 L1044.5 358.5" stroke-width="1.21" fill="none" />
<path d="M1040.5 346.6 L1044.9 349.9 L1052.3 353.8 L1056.7 386.4 L1077.5 393.7" stroke-width="1.21" fill="none"/>
<text x="150.27" y="18.2" font-size="17.5" font-weight="normal" >4</text>
<text x="160.00" y="18.2" font-size="17.5" font-weight="normal" >2</text>
<path d="M196.05 36.00 L194.56 36.00 L194.56 26.46 L191.93 27.25 L191.93 25.94 Q193.77 25.33 194.73 23.47 L196.05 23.47 Z" fill="#000" stroke="#000" stroke-width="0.4"/>
<text x="200.00" y="36.0" font-size="17.5" font-weight="normal" >8</text>
<text x="217.27" y="47.5" font-size="17.5" font-weight="normal" >4</text>
<path d="M232.78 47.50 L231.29 47.50 L231.29 37.96 L228.66 38.75 L228.66 37.44 Q230.50 36.83 231.46 34.97 L232.78 34.97 Z" fill="#000" stroke="#000" stroke-width="0.4"/>
<text x="114.27" y="61.2" font-size="17.5" font-weight="normal" >4</text>
<text x="124.00" y="61.2" font-size="17.5" font-weight="normal" >6</text>
<path d="M162.05 78.50 L160.56 78.50 L160.56 68.96 L157.93 69.75 L157.93 68.44 Q159.77 67.83 160.73 65.97 L162.05 65.97 Z" fill="#000" stroke="#000" stroke-width="0.4"/>
<text x="166.00" y="78.5" font-size="17.5" font-weight="normal" >7</text>
<text x="195.27" y="93.5" font-size="17.5" font-weight="normal" >4</text>
<text x="205.00" y="93.5" font-size="17.5" font-weight="normal" >3</text>
<text x="274.77" y="66.5" font-size="17.5" font-weight="normal" >2</text>
<text x="284.50" y="66.5" font-size="17.5" font-weight="normal" >5</text>
<text x="262.27" y="118.5" font-size="17.5" font-weight="normal" >2</text>
<text x="272.00" y="118.5" font-size="17.5" font-weight="normal" >4</text>
<path d="M370.54 39.50 L369.06 39.50 L369.06 29.96 L366.43 30.75 L366.43 29.44 Q368.27 28.83 369.23 26.97 L370.54 26.97 Z" fill="#000" stroke="#000" stroke-width="0.4"/>
<text x="374.50" y="39.5" font-size="17.5" font-weight="normal" >5</text>
<text x="422.27" y="58.5" font-size="17.5" font-weight="normal" >4</text>
<text x="432.00" y="58.5" font-size="17.5" font-weight="normal" >9</text>
<text x="442.27" y="138.5" font-size="17.5" font-weight="normal" >3</text>
<text x="452.00" y="138.5" font-size="17.5" font-weight="normal" >6</text>
<path d="M544.34 115.30 L542.86 115.30 L542.86 105.76 L540.23 106.55 L540.23 105.24 Q542.07 104.62 543.03 102.77 L544.34 102.77 Z" fill="#000" stroke="#000" stroke-width="0.4"/>
<path d="M554.07 115.30 L552.59 115.30 L552.59 105.76 L549.96 106.55 L549.96 105.24 Q551.80 104.62 552.76 102.77 L554.07 102.77 Z" fill="#000" stroke="#000" stroke-width="0.4"/>
<text x="580.77" y="131.5" font-size="17.5" font-weight="normal" >3</text>
<path d="M596.27 131.50 L594.79 131.50 L594.79 121.96 L592.16 122.75 L592.16 121.44 Q594.00 120.83 594.96 118.97 L596.27 118.97 Z" fill="#000" stroke="#000" stroke-width="0.4"/>
<text x="937.13" y="120.0" font-size="17.5" font-weight="normal" >5</text>
<text x="963.77" y="120.0" font-size="17.5" font-weight="normal" >4</text>
<text x="973.50" y="120.0" font-size="17.5" font-weight="normal" >7</text>
<path d="M90.55 264.50 L89.06 264.50 L89.06 254.96 L86.43 255.75 L86.43 254.44 Q88.27 253.82 89.23 251.97 L90.55 251.97 Z" fill="#000" stroke="#000" stroke-width="0.4"/>
<text x="94.50" y="264.5" font-size="17.5" font-weight="normal" >0</text>
<text x="180.87" y="264.5" font-size="17.5" font-weight="normal" >4</text>
<text x="190.60" y="264.5" font-size="17.5" font-weight="normal" >6</text>
<text x="241.03" y="282.2" font-size="17.5" font-weight="normal" >3</text>
<text x="655.77" y="161.5" font-size="17.5" font-weight="normal" >3</text>
<text x="665.50" y="161.5" font-size="17.5" font-weight="normal" >7</text>
<text x="669.27" y="252.2" font-size="17.5" font-weight="normal" >3</text>
<text x="679.00" y="252.2" font-size="17.5" font-weight="normal" >8</text>
<text x="617.27" y="254.5" font-size="17.5" font-weight="normal" >4</text>
<text x="627.00" y="254.5" font-size="17.5" font-weight="normal" >8</text>
<text x="554.13" y="274.5" font-size="17.5" font-weight="normal" >2</text>
<text x="799.27" y="203.5" font-size="17.5" font-weight="normal" >4</text>
<text x="809.00" y="203.5" font-size="17.5" font-weight="normal" >7</text>
<text x="831.13" y="197.5" font-size="17.5" font-weight="normal" >5</text>
<text x="1012.27" y="170.5" font-size="17.5" font-weight="normal" >3</text>
<text x="1022.00" y="170.5" font-size="17.5" font-weight="normal" >4</text>
<text x="929.27" y="229.5" font-size="17.5" font-weight="normal" >3</text>
<text x="939.00" y="229.5" font-size="17.5" font-weight="normal" >3</text>
<text x="1038.27" y="231.0" font-size="17.5" font-weight="normal" >3</text>
<text x="1048.00" y="231.0" font-size="17.5" font-weight="normal" >9</text>
<text x="297.77" y="303.5" font-size="17.5" font-weight="normal" >3</text>
<text x="307.50" y="303.5" font-size="17.5" font-weight="normal" >2</text>
<path d="M329.54 380.20 L328.06 380.20 L328.06 370.66 L325.43 371.45 L325.43 370.14 Q327.27 369.52 328.23 367.67 L329.54 367.67 Z" fill="#000" stroke="#000" stroke-width="0.4"/>
<text x="333.50" y="380.2" font-size="17.5" font-weight="normal" >2</text>
<path d="M296.04 394.50 L294.56 394.50 L294.56 384.96 L291.93 385.75 L291.93 384.44 Q293.77 383.82 294.73 381.97 L296.04 381.97 Z" fill="#000" stroke="#000" stroke-width="0.4"/>
<text x="300.00" y="394.5" font-size="17.5" font-weight="normal" >3</text>
<path d="M391.04 401.00 L389.56 401.00 L389.56 391.46 L386.93 392.25 L386.93 390.94 Q388.77 390.32 389.73 388.47 L391.04 388.47 Z" fill="#000" stroke="#000" stroke-width="0.4"/>
<text x="395.00" y="401.0" font-size="17.5" font-weight="normal" >2</text>
<text x="466.27" y="394.5" font-size="17.5" font-weight="normal" >2</text>
<text x="476.00" y="394.5" font-size="17.5" font-weight="normal" >7</text>
<path d="M262.04 412.50 L260.56 412.50 L260.56 402.96 L257.93 403.75 L257.93 402.44 Q259.77 401.82 260.73 399.97 L262.04 399.97 Z" fill="#000" stroke="#000" stroke-width="0.4"/>
<text x="266.00" y="412.5" font-size="17.5" font-weight="normal" >4</text>
<text x="614.27" y="303.5" font-size="17.5" font-weight="normal" >2</text>
<text x="624.00" y="303.5" font-size="17.5" font-weight="normal" >3</text>
<text x="551.27" y="334.5" font-size="17.5" font-weight="normal" >3</text>
<text x="561.00" y="334.5" font-size="17.5" font-weight="normal" >6</text>
<text x="688.27" y="360.2" font-size="17.5" font-weight="normal" >3</text>
<text x="698.00" y="360.2" font-size="17.5" font-weight="normal" >5</text>
<text x="815.27" y="325.5" font-size="17.5" font-weight="normal" >4</text>
<text x="825.00" y="325.5" font-size="17.5" font-weight="normal" >6</text>
<path d="M863.04 337.50 L861.56 337.50 L861.56 327.96 L858.93 328.75 L858.93 327.44 Q860.77 326.82 861.73 324.97 L863.04 324.97 Z" fill="#000" stroke="#000" stroke-width="0.4"/>
<text x="867.00" y="337.5" font-size="17.5" font-weight="normal" >7</text>
<text x="894.27" y="357.5" font-size="17.5" font-weight="normal" >4</text>
<text x="904.00" y="357.5" font-size="17.5" font-weight="normal" >3</text>
<text x="942.77" y="369.5" font-size="17.5" font-weight="normal" >2</text>
<text x="952.50" y="369.5" font-size="17.5" font-weight="normal" >4</text>
<text x="1000.27" y="301.5" font-size="17.5" font-weight="normal" >4</text>
<text x="1010.00" y="301.5" font-size="17.5" font-weight="normal" >0</text>
<text x="1033.77" y="317.5" font-size="17.5" font-weight="normal" >2</text>
<path d="M1049.28 317.50 L1047.79 317.50 L1047.79 307.96 L1045.16 308.75 L1045.16 307.44 Q1047.00 306.82 1047.96 304.97 L1049.28 304.97 Z" fill="#000" stroke="#000" stroke-width="0.4"/>
<path d="M395.04 425.50 L393.56 425.50 L393.56 415.96 L390.93 416.75 L390.93 415.44 Q392.77 414.82 393.73 412.97 L395.04 412.97 Z" fill="#000" stroke="#000" stroke-width="0.4"/>
<text x="399.00" y="425.5" font-size="17.5" font-weight="normal" >6</text>
<text x="476.27" y="435.5" font-size="17.5" font-weight="normal" >2</text>
<text x="486.00" y="435.5" font-size="17.5" font-weight="normal" >8</text>
<path d="M395.04 455.20 L393.56 455.20 L393.56 445.66 L390.93 446.45 L390.93 445.14 Q392.77 444.52 393.73 442.67 L395.04 442.67 Z" fill="#000" stroke="#000" stroke-width="0.4"/>
<text x="399.00" y="455.2" font-size="17.5" font-weight="normal" >4</text>
<text x="487.27" y="472.5" font-size="17.5" font-weight="normal" >2</text>
<text x="497.00" y="472.5" font-size="17.5" font-weight="normal" >6</text>
<text x="491.27" y="492.5" font-size="17.5" font-weight="normal" >3</text>
<text x="501.00" y="492.5" font-size="17.5" font-weight="normal" >0</text>
<text x="515.27" y="518.5" font-size="17.5" font-weight="normal" >2</text>
<text x="525.00" y="518.5" font-size="17.5" font-weight="normal" >9</text>
<path d="M375.41 529.50 L373.92 529.50 L373.92 519.96 L371.30 520.75 L371.30 519.44 Q373.13 518.83 374.10 516.97 L375.41 516.97 Z" fill="#000" stroke="#000" stroke-width="0.4"/>
<text x="553.27" y="434.5" font-size="17.5" font-weight="normal" >4</text>
<text x="563.00" y="434.5" font-size="17.5" font-weight="normal" >5</text>
<path d="M586.75 447.50 L585.26 447.50 L585.26 437.96 L582.63 438.75 L582.63 437.44 Q584.47 436.82 585.43 434.97 L586.75 434.97 Z" fill="#000" stroke="#000" stroke-width="0.4"/>
<text x="590.70" y="447.5" font-size="17.5" font-weight="normal" >9</text>
<text x="612.27" y="454.5" font-size="17.5" font-weight="normal" >4</text>
<text x="622.00" y="454.5" font-size="17.5" font-weight="normal" >4</text>
<text x="647.27" y="471.5" font-size="17.5" font-weight="normal" >2</text>
<text x="657.00" y="471.5" font-size="17.5" font-weight="normal" >0</text>
<text x="707.27" y="426.5" font-size="17.5" font-weight="normal" >4</text>
<text x="717.00" y="426.5" font-size="17.5" font-weight="normal" >6</text>
<text x="754.27" y="438.5" font-size="17.5" font-weight="normal" >2</text>
<text x="764.00" y="438.5" font-size="17.5" font-weight="normal" >2</text>
<text x="679.53" y="511.2" font-size="17.5" font-weight="normal" >8</text>
<text x="670.13" y="528.5" font-size="17.5" font-weight="normal" >6</text>
<text x="801.63" y="531.5" font-size="17.5" font-weight="normal" >7</text>
<text x="828.27" y="470.8" font-size="17.5" font-weight="normal" >3</text>
<text x="838.00" y="470.8" font-size="17.5" font-weight="normal" >9</text>
<text x="1084.27" y="439.5" font-size="17.5" font-weight="normal" >5</text>
<text x="1094.00" y="439.5" font-size="17.5" font-weight="normal" >0</text>
<text x="885.13" y="98" font-size="17.5" font-weight="bold" >4</text>
<text x="243.03" y="461.7" font-size="17.5" font-weight="normal" >9</text>
<text x="871.3" y="537.7" font-size="12.2" textLength="59" lengthAdjust="spacingAndGlyphs" style="stroke-width:0.5px">SE03-A0803</text>
</svg>
</body></html>
